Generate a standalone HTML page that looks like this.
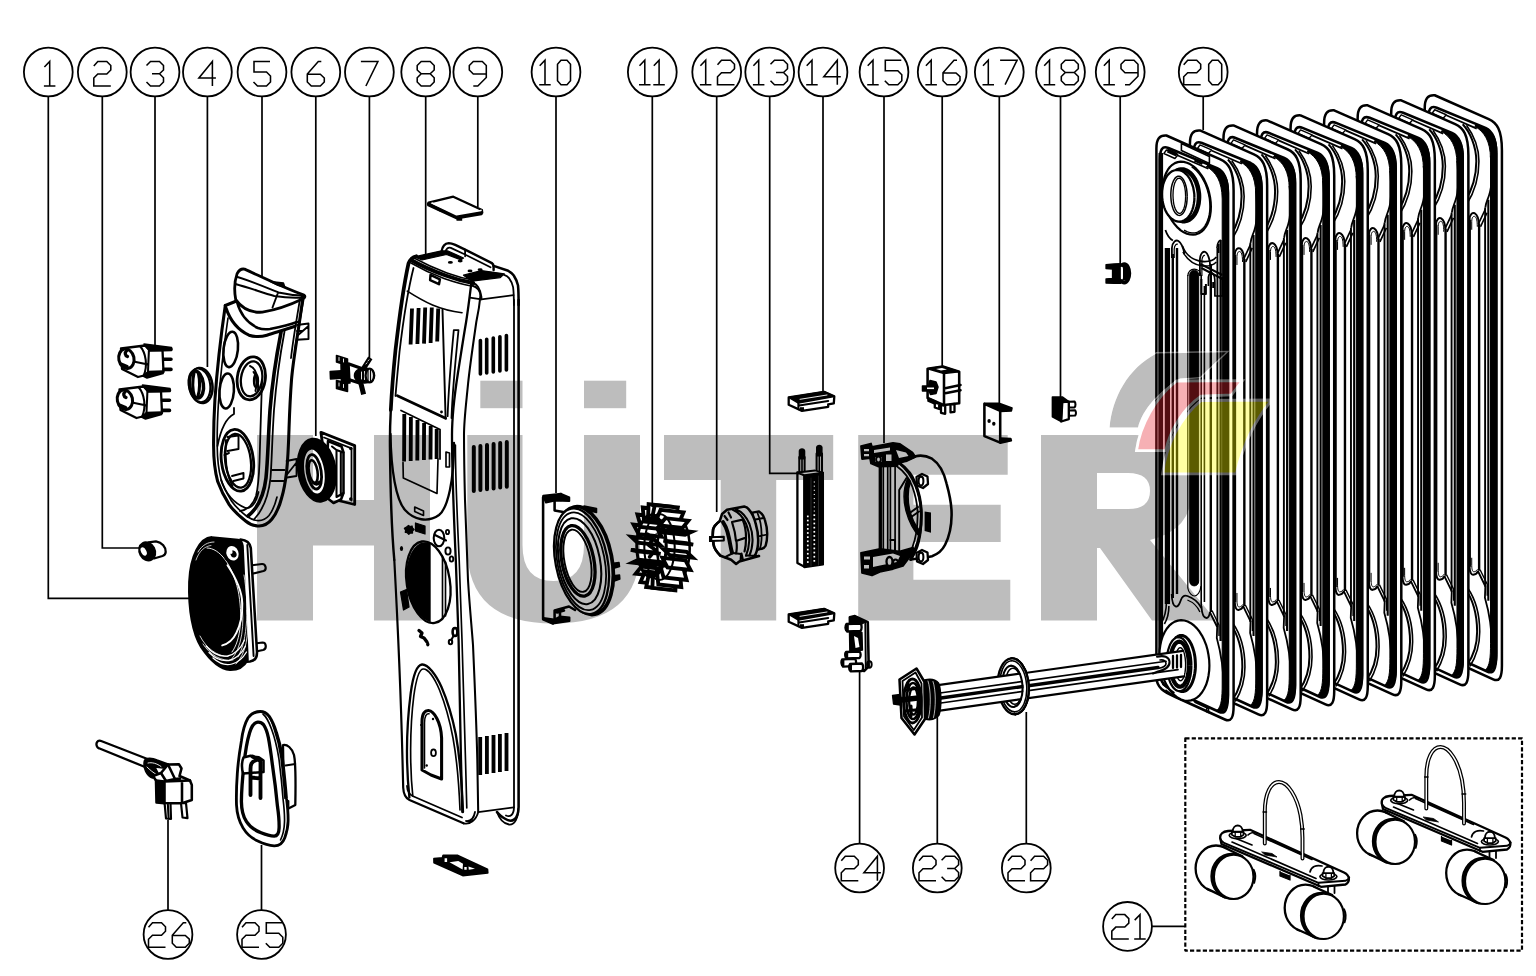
<!DOCTYPE html>
<html><head><meta charset="utf-8"><title>Diagram</title>
<style>html,body{margin:0;padding:0;background:#fff;}body{width:1536px;height:976px;overflow:hidden;font-family:"Liberation Sans",sans-serif;}svg{display:block}</style>
</head><body>
<svg width="1536" height="976" viewBox="0 0 1536 976">
<rect width="1536" height="976" fill="#fff"/>
<g id="drawing" fill="none" stroke="#000" stroke-width="1.5" stroke-linecap="round" stroke-linejoin="round">
<g id="p1">
<!-- pegs -->
<path fill="#fff" stroke-width="2.18" d="M250,565.5 L262,564 C266,563.8 267,570 263.5,571 L251,574 Z"/>
<path fill="#fff" stroke-width="2.18" d="M255,643.5 L262.5,642.5 C266.5,642.5 267,649 263,650 L256,651.5 Z"/>
<!-- flange -->
<path fill="#fff" stroke-width="2.56" d="M240.5,539.5 C246,540 250,543 250.8,548 L257,652 C257.2,658 254,661 250,661.5 L243,662 Z"/>
<path stroke-width="1.92" d="M247.3,545 L253.6,656"/>
<!-- body black -->
<path fill="#000" stroke-width="2.56" d="M211.8,537.4 C200,538 190.5,556 189.4,582 C188.5,610 193,634 201.3,647.1 C210,660 219,669 230,669.8 C238,670 244,666 247.5,660 L242.5,546 C242,542 240.500,540.500 238,540 Z"/>
<!-- inner light arcs -->
<path stroke="#fff" stroke-width="0.9" fill="none" d="M207,548 C220,548 232,565 238,590 C243,615 241,640 232,652"/>
<path stroke="#fff" stroke-width="0.8" fill="none" d="M244,575 C249,605 248,640 238,657 M241.5,600 C245,625 242,648 231,660 M247,610 C249.500,635 246,654 236,664"/>
<path stroke="#fff" stroke-width="0.8" fill="none" d="M203,644 C210,655 222,662 233,660 M200,636 C206,648 217,656.500 228,656.500 M198,552 C202,545 208,542 214,542"/>
<path stroke="#fff" stroke-width="0.7" fill="none" d="M196,560 C199,551 205,546 211,545.500"/>
<path stroke="#fff" stroke-width="1.92" fill="none" d="M227.5,565.3 C236,578 242,592 242.3,603.6 C242.600,616 240,626 236.2,633.2 C233,640 228,644 222.2,645.4"/>
<path stroke="#fff" stroke-width="1.28" fill="none" d="M206,646 C212,653 220,657 227.5,656 C235,654.500 241,648 244.5,640 M209,652.500 C215,658.500 222,661.500 229,660.500 C236,659 242,653 245.500,646 M213,658 C219,663.500 226,665.500 232,664 C238,662.500 243,658 246.500,652"/>
<!-- small ring -->
<ellipse cx="232.5" cy="553.3" rx="7.8" ry="9.2" fill="#fff" stroke="#000" stroke-width="3.58" transform="rotate(-20 232.5 553.3)"/>
<ellipse cx="233.5" cy="554" rx="3" ry="3.6" fill="#000" stroke="none" transform="rotate(-20 233.5 554)"/>
<ellipse cx="231" cy="552" rx="1.6" ry="2" fill="#fff" stroke="none"/>
</g>

<g id="p3">
<g transform="translate(0,0)">
<path fill="#fff" stroke-width="2.30" d="M121,348.5 L145,345.5 L149.5,350 L162.5,350 L163.5,372 L148,374.5 L138,377 L122,369 Z"/>
<path fill="#000" stroke-width="1.54" d="M144,344 L171.500,347.500 V350.500 L163,350.800 L149.500,351 Z"/>
<path stroke-width="3.58" stroke-linecap="round" d="M164,359.2 H171 M164,369.4 H171 M164,349.3 H171"/>
<path fill="#000" stroke-width="1.54" d="M143,376 L148,371.500 L163.500,371 L163,373.500 L147,378 Z"/>
<path stroke-width="2.05" d="M148.9,350.5 L147.9,374 M133.500,361.500 L148,364.500 M140,346 C146,353 148,366 143.500,376"/>
<ellipse cx="126.4" cy="358.7" rx="7.6" ry="9.8" fill="#fff" stroke-width="3.07" transform="rotate(-12 126.4 358.7)"/>
<path stroke-width="3.33" d="M126.500,351 C124.500,352.500 125,355.500 127.500,356.500 M121,364 L127,366.500"/>
</g>
<g transform="translate(-1.5,41)">
<path fill="#fff" stroke-width="2.30" d="M121,348.5 L145,345.5 L149.5,350 L162.5,350 L163.5,372 L148,374.5 L138,377 L122,369 Z"/>
<path fill="#000" stroke-width="1.54" d="M144,344 L171.500,347.500 V350.500 L163,350.800 L149.500,351 Z"/>
<path stroke-width="3.58" stroke-linecap="round" d="M164,359.2 H171 M164,369.4 H171 M164,349.3 H171"/>
<path fill="#000" stroke-width="1.54" d="M143,376 L148,371.500 L163.500,371 L163,373.500 L147,378 Z"/>
<path stroke-width="2.05" d="M148.9,350.5 L147.9,374 M133.500,361.500 L148,364.500 M140,346 C146,353 148,366 143.500,376"/>
<ellipse cx="126.4" cy="358.7" rx="7.6" ry="9.8" fill="#fff" stroke-width="3.07" transform="rotate(-12 126.4 358.7)"/>
<path stroke-width="3.33" d="M126.500,351 C124.500,352.500 125,355.500 127.500,356.500 M121,364 L127,366.500"/>
</g>
</g>
<g id="p4">
<ellipse cx="201.2" cy="385.5" rx="11.2" ry="17.6" fill="#fff" stroke-width="2.56" transform="rotate(-8 201.2 385.5)"/>
<ellipse cx="199.6" cy="385.3" rx="10.6" ry="17" fill="#fff" stroke-width="2.05" transform="rotate(-8 199.6 385.3)"/>
<ellipse cx="196.4" cy="384.6" rx="7" ry="13.6" fill="#fff" stroke-width="3.52" transform="rotate(-8 196.4 384.6)"/>
<path stroke-width="3.07" d="M194,373 C192.500,380 192.500,390 194.500,396.500 M198.500,374 C200,380 200,390 198,396"/>
</g>
<g id="p2">
<path fill="#fff" stroke-width="2.30" d="M148.5,542.3 L156,541.3 C162,542.500 166,547 165.7,552 C165.500,554.500 164,555.500 162.500,556 L154,558.5 Z"/>
<ellipse cx="147.2" cy="551.4" rx="7.6" ry="9.4" fill="#000" stroke-width="2.05" transform="rotate(-28 147.2 551.4)"/>
<ellipse cx="143.7" cy="551.5" rx="2.6" ry="4.4" fill="#fff" stroke="none" transform="rotate(-28 143.7 551.5)"/>
</g>
<g id="p5">
<!-- body fill -->
<path fill="#fff" stroke="none" d="M225.3,305.5 L236,300 L237,273 L245,269 L304,295 L302.5,300 C299,330 293,360 291.5,380 C290,400 289.500,415 289,429.2 C288.500,445 288,458 286.6,471.8 C285,485 283.500,492 281.6,498 C279,508 276,514 271.8,519.3 C268,524 262,526.500 257,525.9 C252,525.500 248,523 245.6,521 C238,515 233,510 229.2,504.6 C223,495 220,488 217.7,481.6 C214.500,470 213.600,455 213.6,445.6 C213.500,430 214,415 214.9,400 Z"/>
<!-- left edge & outline -->
<path stroke-width="3.07" d="M225.3,305.5 C221,335 217,370 214.9,400 C214,415 213.500,430 213.6,445.6 C213.600,455 214.500,470 217.7,481.6 C220,488 223,495 229.2,504.6 C233,510 238,515 245.6,521 C248,523 252,525.500 257,525.9 C262,526.500 268,524 271.8,519.3 C276,514 279,508 281.6,498 C283.500,492 285,485 286.6,471.8 C288,458 288.500,445 289,429.2 C289.500,415 290,400 291.5,380 C293,360 298,335 302.5,300"/>
<path stroke-width="1.66" d="M228,318 C224,345 220.500,375 218.500,402 C217.500,418 217,432 217.2,446 C217.300,456 218,468 221,479 C223,486 226,492 231.500,501 C235,506 240,511 247,516.500 C250,518.500 253,520 257,520.5 C262,521 266,519 269,515.5 C272.500,511 275,505 277,497"/>
<!-- hood -->
<path fill="#fff" stroke-width="2.82" d="M235.7,299.6 C234,290 234.500,281 237.1,273.6 C239,270 241.500,268.500 244.6,269.1 C262,277 284,288 304,295.1 C305.500,296 305,298 302.5,299 C290,305 278,309.500 262.4,312.2 C250,313 241,307 235.7,299.6 Z"/>
<path stroke-width="1.92" d="M235.5,284 C250,288 262,292.500 274.3,296 C284,297.500 294,298 302.5,297.5 M237.5,277 C252,281.500 265,287 278.5,292.5 C287,294.500 296,295.500 304,295.5 M277.5,294 L272.5,307.5"/>
<path fill="#000" stroke-width="1.28" d="M270,281.5 L283.500,283 L285,287.500 L278,285.500 Z"/>
<circle cx="302.5" cy="296.5" r="1.6" fill="#000" stroke="none"/>
<!-- collar arcs -->
<path stroke-width="3.07" d="M225.3,305.5 L236.5,301 M226,308 C230,320 238,330 249,335.2 C255,337 261,337 266.9,335.2 C277,332 287,329 295.1,326.3"/>
<path stroke-width="2.56" d="M237,302 C240,313 247,323 258,328 C262,329.500 266,329.500 270,329 C280,327 289,325 297,322"/>
<!-- right side lines -->
<path stroke-width="3.58" d="M281,332.3 C276,358 272,385 270,410 C268,440 268,458 266,478 C264,495 258,508 248,516"/>
<path stroke-width="1.79" d="M284.5,331.5 C279.500,358 276,385 274,410 C272,440 272,458 270.500,478 C268.500,496 263,510 254,519.500"/>
<path stroke-width="1.79" d="M262,380 C261,410 260,440 259.5,462 C259,476 258,488 256,496 C253,505 247,510 240,511"/>
<path stroke-width="1.79" d="M303.5,300 C300,320 297,335 295,350 M300,299 C296.500,320 293,340 291,358"/>
<!-- tabs on right -->
<path stroke-width="1.92" d="M297,325 L308.500,323.500 V339 L297,339.700 M297,336 L308.500,326 M297,331 H303"/>
<path stroke-width="1.79" d="M272,470 H284.500 M271.500,481 H283.500 M286.600,461 L296.500,459 V476 L287,477.500 M287,474.500 L296.500,462.500"/>
<!-- holes -->
<ellipse cx="230.7" cy="349.4" rx="7.2" ry="17.8" stroke-width="2.56" transform="rotate(6 230.7 349.4)"/>
<ellipse cx="226.7" cy="391" rx="7.2" ry="17.5" stroke-width="2.56" transform="rotate(4 226.7 391)"/>
<ellipse cx="251.3" cy="378.3" rx="14" ry="21.6" stroke-width="2.82" transform="rotate(8 251.3 378.3)"/>
<ellipse cx="251.6" cy="378.8" rx="10.6" ry="17.6" stroke-width="2.30" transform="rotate(8 251.6 378.8)"/>
<path stroke-width="1.92" d="M250,366 C256,368 259,378 258,390 M253.500,372 C256.500,376 257,384 255.500,391"/>
<ellipse cx="256" cy="381" rx="2" ry="6" stroke-width="2.30"/>
<!-- inner panel outline around large hole -->
<path stroke-width="1.79" d="M234,408 V414 C226,418 221,428 217.5,446 M221,480 C225,492 233,503 245.600,508 C252,509 256,503 258.5,492"/>
<!-- large oval hole -->
<ellipse cx="237.4" cy="460.3" rx="16" ry="31" stroke-width="2.82" transform="rotate(-7 237.4 460.3)"/>
<ellipse cx="238" cy="460.8" rx="12.8" ry="27" stroke-width="2.30" transform="rotate(-7 238 460.8)"/>
<path stroke-width="1.92" d="M227.5,437 L238.500,435.500 V449 L227.500,451 M224.500,455 L229,453 M232,476 L243.500,473 V478.500 L233.500,481 M226,440 C224.500,455 226,475 232.500,486"/>
</g>

<g id="p6">
<!-- back plate -->
<path fill="#fff" stroke-width="2.82" d="M320.9,432.3 L354.7,445.6 V504.5 L330,498.5 Z"/>
<path stroke-width="1.79" d="M324,437.500 L351.500,448.300 V500.500"/>
<circle cx="323" cy="433.5" r="1.7" fill="#000" stroke="none"/><circle cx="350.8" cy="448.5" r="1.8" fill="#000" stroke="none"/><circle cx="350.8" cy="499" r="1.8" fill="#000" stroke="none"/>
<!-- box -->
<path fill="#fff" stroke-width="2.56" d="M328,441 L341.500,446.500 L343.500,452.500 V493 L341,499.500 L333.500,503 L326,497 Z"/>
<path stroke-width="2.05" d="M336.5,450 V497 M340.800,452 V495.500 M332,446.500 L336.500,450 L343.500,452.500 M336.500,497 L343.500,493"/>
<!-- tire -->
<ellipse cx="316.8" cy="470.2" rx="18.8" ry="31.8" fill="#000" stroke-width="1.92" transform="rotate(-9 316.8 470.2)"/>
<ellipse cx="314.4" cy="471.6" rx="9.9" ry="22.2" fill="#fff" stroke="none" transform="rotate(-9 314.4 471.6)"/>
<ellipse cx="314.2" cy="471.8" rx="7" ry="17.4" stroke-width="2.82" transform="rotate(-9 314.2 471.8)"/>
<ellipse cx="313.2" cy="471.500" rx="4.3" ry="11.4" stroke-width="2.56" transform="rotate(-9 313.2 471.500)"/>
<path stroke-width="3.07" d="M313,482.500 C315.500,485 318,484.500 319.500,482"/>
</g>
<g id="p7" fill="#000" stroke-width="1.54">
<path d="M336.5,355.5 L347.5,359 V365.5 L336.500,362 Z"/>
<path d="M330.2,371.5 L348.800,370.200 V377.800 L330.500,379 Z"/>
<path d="M336.5,380.5 L347.500,383 V391.500 L336.500,388.500 Z"/>
<path d="M341,364.500 L349,364 L350,383 L341.500,383.500 Z"/>
<path stroke-width="3.33" d="M349,364 L364.500,369.500 M348.500,379.500 L359.500,383"/>
<ellipse cx="364.5" cy="375.5" rx="10" ry="7.6"/>
<path stroke="#fff" stroke-width="0.9" d="M361.500,372 V379 M364.500,371.500 V379.500 M368,371 V379.500 M339,357.500 v3 M343.500,359 v3 M339,383 v3 M343.500,384.500 v3"/>
<ellipse cx="369.8" cy="375.5" rx="4.2" ry="6.8" fill="#fff" stroke-width="2.30"/>
<path stroke-width="1.28" stroke="#000" d="M368,370.500 V380.500 M370.500,370 V381"/>
<path stroke-width="5.06" stroke-linecap="butt" d="M363.500,368.500 L370.300,357.800 M360.800,383 L363.600,394.300"/>
<path stroke="#fff" stroke-width="0.8" d="M366,364 l1,-1.2 M368,361 l1,-1.2"/>
</g>

<g id="p8">
<!-- silhouette fill -->
<path fill="#fff" stroke="none" d="M410.7,259.5 L445,244 L464,247 L511,270 C517,278 518.5,288 518.5,296 V808 C518,822 508,826 498,818 L478,812 L464,823.5 L409.5,800 C404,797 403,790 403.2,787 C402,740 399,640 394.3,560 C391,500 389,450 390.5,420 C392,380 398,310 410.7,259.5 Z"/>
<!-- left edge (double) -->
<path stroke-width="3.71" d="M416.3,256.2 C412.500,257 410,259.500 408.500,263.500 C403.500,286 399,320 395.5,350 C393.500,370 391.800,390 390.800,410"/>
<path stroke-width="2.43" d="M390.800,410 C390,425 389.800,438 390,450 C390.5,500 392.5,540 394.3,560"/>
<path stroke-width="2.18" d="M394.3,560 C397,610 400.5,680 402.5,760 L403.2,787.6 C403.5,794 405.5,798 409.5,800 L463.5,823.3"/>
<path stroke-width="1.79" d="M413.5,268 C408,290 403,322 399.5,352 C398,368 396.500,383 395.500,396 M407,786 C407.3,791 409,794 412.5,796 L462,817.5"/>
<!-- F1 double + F2 -->
<path stroke-width="2.30" d="M471.2,284.1 C469.5,298 468,310 466.1,322 C463,340 460.5,357 457.9,373.2 C454.5,395 452,418 452,435 C452,470 454,520 455.8,560 C456.8,590 457.8,615 458.6,640 C459.6,680 460.5,720 461,760 L462.3,812"/>
<path stroke-width="1.66" d="M455.4,445 C455.4,480 457.3,520 459.2,560 C460.2,590 461.2,615 462,640 C463,680 464.5,720 465.5,760 L466.8,808"/>
<path stroke-width="2.05" d="M472,285.5 C477,287 480.5,290 480.4,296 C479.5,306 478,314 476.3,322 C473,345 470,365 468.1,383.4 C466,405 464,420 464,435 C464,460 464.5,480 465,500 C466,530 467,555 468,580 C469.5,605 471.5,625 473,645 C475,690 476.5,725 477.3,760 L478.2,812"/>
<!-- right edge double -->
<path stroke-width="2.56" d="M518.6,300 V807 C518.3,820 512,823 505.5,819 C502,817 499,815 497,812"/>
<path stroke-width="1.79" d="M514,300 V807 C514,815 510,817.5 506,815.5"/>
<!-- top cap -->
<path stroke-width="3.97" d="M411.5,260.200 C420,265 432,270.500 445.6,275.5 C455,279 464,281.500 473.2,283"/>
<path stroke-width="1.54" d="M413.5,257.800 C424,263.500 436,269 447,273 C456,276.300 465,278.800 474,280.300 M411,263 C421,268.800 432,274 444,278.500 C454,282 463,284.500 471.500,286"/>
<path fill="#000" stroke-width="1.28" d="M414.5,256.8 L441.500,250.800 L448,251 L463.500,258 L461,259.800 L446.500,254.500 L422,260 Z"/>
<path fill="#000" stroke-width="1.28" d="M463.5,275.2 L481.4,270.6 L504.3,273.800 L500.3,277.600 L472,281.200 Z"/>
<path stroke-width="2.56" d="M493.6,265.9 L508.2,270.8 C511,272.200 512.800,273.800 513.9,275.7 C516,279 517.400,282 518,285.4 C518.500,290 518.600,296 518.6,305"/>
<path stroke-width="1.79" d="M504.1,274.9 C506.500,275.800 508,276.800 509,278.1 C511.200,281 512.500,284 513.1,287.1 C513.700,292 513.900,298 513.9,305"/>
<path stroke-width="1.79" d="M470,297.6 L481.4,299.3 L513.500,295.100"/>
<path stroke-width="1.92" d="M473.2,283 C475.500,284 477,285.300 478.1,287 C480,290 481,293.500 481.4,296.8 V299.300"/>
<path stroke-width="1.66" d="M407.3,291.1 C415,296 423,300.800 432.5,305 C442,309 452,311.500 462,312.7"/>
<!-- handle -->
<path stroke-width="2.43" d="M441.5,251.8 C442,248.500 443,246.500 443.9,245.6 C445.200,244 447,243.200 448.8,243.1 C451,243.100 453,243.800 455.3,244.8 L465.1,249.6 L491.9,263.1 C493,263.800 493.500,265 493.6,266.7 V270"/>
<path stroke-width="1.79" d="M445.3,252.300 C445.800,250.300 446.500,249 447.500,248.300 C448.500,247.600 449.500,247.500 450.800,247.900 L464.500,254.300 L490.500,267.300 M465.100,249.600 V256.300"/>
<g fill="#000" stroke="none"><ellipse cx="450.4" cy="262.4" rx="2.5" ry="1.4"/><ellipse cx="460.2" cy="261.100" rx="2.500" ry="1.400"/><ellipse cx="470" cy="270.900" rx="2.500" ry="1.400"/><ellipse cx="480.100" cy="269.700" rx="2.500" ry="1.400"/></g>
<path stroke-width="2.43" d="M430.5,274.9 L439.9,279.3 L439,284.2 L430.1,280.2 Z"/>
<!-- upper front vents -->
<path stroke-width="3.84" stroke-linecap="butt" d="M412,308.5 L410.6,344.5 M418.6,308 L417.4,344 M425.2,307.5 L424,343.6 M431.8,307.5 L430.6,343 M438.2,308.5 L437.2,341.5"/>
<!-- window -->
<path stroke-width="1.92" d="M442.5,309.7 L445.6,418.3"/>
<path stroke-width="2.82" d="M397.4,395.7 L445.6,418.3"/>
<path stroke-width="1.79" d="M453.8,330.2 H458.5 M453.8,330.2 C451,360 448.5,390 447.6,416.2 M458.5,330.2 C455.5,360 452.5,390 451.5,418"/>
<circle cx="441.5" cy="412" r="1.4" fill="#000" stroke="none"/>
<!-- lower front vents -->
<path stroke-width="1.79" d="M401,410.5 L440,429.5 V459"/>
<path stroke-width="3.84" stroke-linecap="butt" d="M404.3,414 L404.1,461.5 M410.9,417 L410.7,461 M417.5,420 L417.3,460.5 M424.1,423 L423.9,460 M430.7,426 L430.5,459.5 M436.7,429 L436.6,459"/>
<path stroke-width="1.66" d="M403,462.5 L403.3,478 L437,493.5 L438,459"/>
<!-- big half ellipse recess -->
<path stroke-width="2.30" d="M390.5,434 C391,470 396,500 405,510 C414,520 428,523 439,515 C448,508 454,480 454,443"/>
<path stroke-width="1.66" d="M446,452 V467 H449.5 V453 Z M414.7,507 L423.5,511 V515.5 L414.7,511.5 Z"/>
<!-- icons -->
<path fill="#000" stroke-width="1.28" d="M415.5,523 L425,526 V534 L415.5,531 Z M406.5,527 l2,-1.5 l1.5,1 l2,-0.5 l0.5,2 l1.5,1.5 l-1.5,1.5 l0,2 l-2.2,0 l-1.5,1.3 l-1.5,-1.6 l-2,-0.3 l0.3,-2.2 l-1.2,-1.8 Z"/>
<ellipse cx="439" cy="538" rx="5.3" ry="8.3" stroke-width="2.05"/><path stroke-width="2.05" d="M435,535 L446,540.5"/>
<ellipse cx="447.5" cy="532" rx="1.6" ry="2.2" stroke-width="1.79"/><ellipse cx="448" cy="551" rx="2.6" ry="3.6" stroke-width="1.92"/><ellipse cx="451.5" cy="559" rx="1.8" ry="2.6" stroke-width="1.92"/>
<ellipse cx="401.5" cy="548.5" rx="1.6" ry="2.6" fill="#000" stroke="none"/>
<!-- knob hole ellipse -->
<g transform="rotate(-9 428.3 582.2)">
<ellipse cx="428.3" cy="582.2" rx="21.6" ry="41.2" stroke-width="2.30"/>
</g>
<path fill="#000" stroke="none" d="M430.7,543.5 C418,538 408,552 406.3,572 C405,595 414,616 430.7,622.5 Z"/>
<path stroke-width="1.66" d="M442.5,557 V619 M445.5,562 V616"/>
<path fill="#000" stroke-width="1.28" d="M400.5,592 L406.5,589.5 L409,607 L403.5,610 Z"/>
<!-- lower icons -->
<path stroke-width="3.33" d="M419,630.5 L422,633 L420.5,636.5 L424,638 L427,642" /><ellipse cx="427.8" cy="644.2" rx="1.6" ry="2.2" fill="#000" stroke="none"/>
<ellipse cx="455" cy="632" rx="2.4" ry="4" stroke-width="2.56"/><ellipse cx="450.5" cy="642" rx="1.7" ry="2.2" stroke-width="2.05"/><path stroke-width="2.05" d="M453.5,636 L451.5,639.5"/>
<!-- arch recess -->
<path stroke-width="2.30" d="M409.4,797.4 C406.5,770 406,730 410.7,693.2 C413,676 417,665 422,664.5 C428,664 436,675 441.5,687 C448,702 452.5,718 455.8,734.2 C460,758 462,785 463,812"/>
<path stroke-width="1.66" d="M412.8,796 C410,770 409.5,730 413.8,696 C416,680 419,669.5 423,669 C428,668.5 434.5,678 439.5,690 C446,706 450,722 453,738 C457,760 459,785 460,810"/>
<!-- door -->
<path stroke-width="3.07" d="M422,770 V722 C422,713 425,710.3 428.5,710.5 C434,711 441,722 441.6,738 V779 L431,775 Z"/>
<path stroke-width="1.54" d="M424.5,768 V723 C424.5,716 426.5,713.5 429,713.8"/>
<ellipse cx="433.5" cy="752.7" rx="2.4" ry="3.4" stroke-width="1.79"/>
<circle cx="433" cy="719" r="1.2" fill="#000" stroke="none"/><circle cx="426.7" cy="765.5" r="1.2" fill="#000" stroke="none"/><circle cx="421" cy="725" r="1" fill="#000" stroke="none"/>
<!-- side vents -->
<path stroke-width="3.63" stroke-linecap="round" d="M480.4,340.5 V374 M486.7,339.3 V373 M493.3,338 V372 M499.9,336.8 V371 M506.4,335.6 V370"/>
<path stroke-width="3.97" stroke-linecap="round" d="M473.8,447 V491 M480.4,446 V490 M487,445 V489.2 M493.6,444 V488.4 M500.2,443 V487.6 M506.8,442 V486.8"/>
<path stroke-width="3.84" stroke-linecap="butt" d="M480.2,737 V775 M486.9,736 V774 M493.5,735 V773 M499.9,734 V772 M506.5,733 V771"/>
<!-- bottom of side -->
<path stroke-width="1.79" d="M478.2,812.2 L513.9,807.3 M463.5,823.3 C470,825 476,820 478.2,812.2 M466,821 C471,821.5 474,817.5 475,812"/>
<path stroke-width="1.79" d="M497,812 C499,818 503,823.5 509,824.5 C515,825 518,818 518.3,809"/>
</g>

<g id="p10">
<!-- bracket -->
<path stroke-width="2.56" d="M543.1,497.2 V619.3 L553,623.500"/>
<path fill="#000" stroke-width="1.92" d="M543.1,495.8 L561,493.800 L569.300,497.500 V501 L555,500.500 L546,502.500 Z"/>
<path stroke-width="2.56" d="M554.6,501 V510.5 L566,512.500 M561,494 V500"/>
<path fill="#000" stroke-width="1.92" d="M543.5,618 L553,623.500 L569.500,621 V617.500 L560,616.500 L554,619.500 Z"/>
<path stroke-width="2.56" d="M554.6,621 V610.5 L569,606.500 L575,610 M560,610 V617 M557,612.500 L564,610.500"/>
<path fill="#000" stroke-width="1.54" d="M584,506 L596.500,508.500 V512.500 L590,511 Z"/>
<!-- pegs -->
<path fill="#000" stroke-width="1.54" d="M611.5,563.5 L619,562.500 L619.500,566.500 L613,568.500 Z M611.5,576 L619.500,575 L619.800,579 L613,581.500 Z"/>
<!-- ring -->
<g transform="rotate(-11 582.5 561)">
<ellipse cx="584.5" cy="561" rx="27.4" ry="54.6" fill="#fff" stroke-width="3.74"/>
<ellipse cx="581.5" cy="561" rx="26" ry="53.6" fill="#fff" stroke-width="2.30"/>
<ellipse cx="581" cy="561" rx="23.6" ry="49.6" stroke-width="1.79"/>
<ellipse cx="579.6" cy="560.6" rx="20.4" ry="43.6" stroke-width="2.05"/>
<ellipse cx="578" cy="560" rx="16" ry="35.8" stroke-width="3.33"/>
<ellipse cx="577.6" cy="559.8" rx="13" ry="31.6" stroke-width="1.92"/>
</g>
</g>

<g id="p11">
<ellipse cx="673.5" cy="548.5" rx="16.2" ry="35.0" stroke-width="2.56"/>
<path d="M637.4,542.6 L631.2,536.8 L654.2,539.3 L660.4,545.1 Z" fill="#fff" stroke-width="3.84" stroke-linejoin="miter"/>
<path d="M637.6,551.4 L630.8,549.9 L653.8,552.4 L660.6,553.9 Z" fill="#fff" stroke-width="3.84" stroke-linejoin="miter"/>
<path d="M638.6,534.2 L633.5,524.6 L656.5,527.1 L661.6,536.7 Z" fill="#fff" stroke-width="3.84" stroke-linejoin="miter"/>
<path d="M639.0,559.6 L632.4,562.7 L655.4,565.2 L662.0,562.1 Z" fill="#fff" stroke-width="3.84" stroke-linejoin="miter"/>
<path d="M640.9,526.9 L637.4,514.5 L660.4,517.0 L663.9,529.4 Z" fill="#fff" stroke-width="3.84" stroke-linejoin="miter"/>
<path d="M641.5,566.5 L635.7,573.8 L658.7,576.3 L664.5,569.0 Z" fill="#fff" stroke-width="3.84" stroke-linejoin="miter"/>
<path d="M644.1,521.5 L642.7,507.5 L665.7,510.0 L667.1,524.0 Z" fill="#fff" stroke-width="3.84" stroke-linejoin="miter"/>
<path d="M645.0,571.4 L640.5,582.1 L663.5,584.6 L668.0,573.9 Z" fill="#fff" stroke-width="3.84" stroke-linejoin="miter"/>
<path d="M648.0,518.5 L648.6,504.2 L671.6,506.7 L671.0,521.0 Z" fill="#fff" stroke-width="3.84" stroke-linejoin="miter"/>
<path d="M648.9,573.8 L646.2,587.0 L669.2,589.5 L671.9,576.3 Z" fill="#fff" stroke-width="3.84" stroke-linejoin="miter"/>
<path d="M652.1,518.2 L654.8,505.0 L677.8,507.5 L675.1,520.7 Z" fill="#fff" stroke-width="3.84" stroke-linejoin="miter"/>
<path d="M653.0,573.5 L652.4,587.8 L675.4,590.3 L676.0,576.0 Z" fill="#fff" stroke-width="3.84" stroke-linejoin="miter"/>
<path d="M656.0,520.6 L660.5,509.9 L683.5,512.4 L679.0,523.1 Z" fill="#fff" stroke-width="3.84" stroke-linejoin="miter"/>
<path d="M656.9,570.5 L658.3,584.5 L681.3,587.0 L679.9,573.0 Z" fill="#fff" stroke-width="3.84" stroke-linejoin="miter"/>
<path d="M659.5,525.5 L665.3,518.2 L688.3,520.7 L682.5,528.0 Z" fill="#fff" stroke-width="3.84" stroke-linejoin="miter"/>
<path d="M660.1,565.1 L663.6,577.5 L686.6,580.0 L683.1,567.6 Z" fill="#fff" stroke-width="3.84" stroke-linejoin="miter"/>
<path d="M662.0,532.4 L668.6,529.3 L691.6,531.8 L685.0,534.9 Z" fill="#fff" stroke-width="3.84" stroke-linejoin="miter"/>
<path d="M662.4,557.8 L667.5,567.4 L690.5,569.9 L685.4,560.3 Z" fill="#fff" stroke-width="3.84" stroke-linejoin="miter"/>
<path d="M663.4,540.6 L670.2,542.1 L693.2,544.6 L686.4,543.1 Z" fill="#fff" stroke-width="3.84" stroke-linejoin="miter"/>
<path d="M663.6,549.4 L669.8,555.2 L692.8,557.7 L686.6,551.9 Z" fill="#fff" stroke-width="3.84" stroke-linejoin="miter"/>
<ellipse cx="651.5" cy="546.0" rx="14.7" ry="31.0" stroke-width="3.07"/>
<ellipse cx="659.5" cy="547.0" rx="15.2" ry="33.0" stroke-width="2.05"/>
<path d="M647.5,534.0 l6,5 l-5,6 l7,5 l-6,7" stroke-width="3.52"/>
</g>
<g id="p12">
<path fill="#fff" stroke-width="2.43" d="M752.5,512.6 L759,511.4 C762,513.500 764,516.500 764.8,519.6 C766.500,525 767.300,530 767.2,534.3 C767.200,539 766.500,543 765.6,545.8 C764.500,548 762,549 759.8,549.1 L753,551 Z"/>
<path stroke-width="1.79" d="M755.5,519.5 L763.5,518 M759.500,536.200 L767.200,534.500 M757.500,513 C760.500,520 762,530 761.500,540 C761.300,544 760.500,547 759.800,549"/>
<path fill="#fff" stroke-width="2.56" d="M722.1,513.9 L727,509.8 L744.3,506.5 C746.500,506.800 748,508 749.2,509.8 C752.500,513.500 754.500,518.500 755.7,523.7 C757.300,529 758.200,535 758.2,540.1 C758.200,545.500 757.300,550.500 755.7,554 C755,555.500 754,556.500 752.5,557.3 L759,556.1 L739.3,561.4 L736.1,563.9 L731.1,559.8 L724.6,557.3 L720.5,555.7 C716.500,552 714,548.500 713.500,544.200 C712.500,538 712.500,533.500 713.100,529.400 C714,526 716.500,523.500 719.700,521.200 Z"/>
<path stroke-width="2.05" d="M732.8,509.800 C739,512.500 743.500,518 746,523.700 C748.500,530 749.500,536 749.200,541 C749,547 747.500,552 746,555.700 M736,509.200 C742.500,512 747,518 749.500,524 C752,530.500 752.800,536 752.500,541.500 C752.200,547.500 751,552 749.500,555.200"/>
<path stroke-width="3.96" d="M723,522.100 C725,525 726.500,528.500 727.500,532 C729,537.500 730,543 730.500,546 C731,549 731.500,551 732,552.500"/>
<path stroke-width="2.18" d="M732,522 L742.600,519.600 C745,525 746,532 746,537.600 L736,541 C735.500,534 734,528 732,522 Z M736.500,541.500 C737,546 737,550 736,553.500 M746,538.500 C746,544 745.500,548 744.500,551.500 M728.500,512.500 L731,517.500 M724.500,516 L727.500,520"/>
<path stroke-width="2.05" d="M724.600,557.300 L733,553 L741,554 L740.500,561 M741.500,553.500 L743,560 M746,555.500 L759,556"/>
<path stroke-width="2.56" d="M719.700,521.200 C716.500,523.500 714,526 713.100,529.400 C712.500,533.500 712.500,538 713.500,544.200 C714,548.500 716.500,552 720.500,555.700"/>
<path fill="#fff" stroke-width="2.05" d="M710,537.300 L723.800,536.800 V540.600 L710,541 Z"/>
<path fill="#000" stroke="none" d="M709,536 h3.300 v6 h-3.300 Z"/>
</g>
<g id="p14"><g transform="translate(0,0)">
<path fill="#fff" stroke-width="2.30" d="M788.7,397.4 L824.1,391.8 L834.3,396.4 L833.8,403.3 L828.2,404.3 V406.8 L802,410.9 L788.7,404.8 Z"/>
<path fill="#000" stroke-width="1.54" d="M788.7,397.4 L824.1,391.8 L834.3,396.4 L798.4,403.1 Z"/>
<path stroke="#fff" stroke-width="0.9" d="M800,399.300 L827,395"/>
<path stroke-width="2.05" d="M798.4,403.1 V409.2 M799,405.500 L828.2,401 "/>
<path fill="#000" stroke="none" d="M800,407.200 h4 v3.400 h-4 Z"/>
</g><g transform="translate(0,217)">
<path fill="#fff" stroke-width="2.30" d="M788.7,397.4 L824.1,391.8 L834.3,396.4 L833.8,403.3 L828.2,404.3 V406.8 L802,410.9 L788.7,404.8 Z"/>
<path fill="#000" stroke-width="1.54" d="M788.7,397.4 L824.1,391.8 L834.3,396.4 L798.4,403.1 Z"/>
<path stroke="#fff" stroke-width="0.9" d="M800,399.300 L827,395"/>
<path stroke-width="2.05" d="M798.4,403.1 V409.2 M799,405.500 L828.2,401 "/>
<path fill="#000" stroke="none" d="M800,407.200 h4 v3.400 h-4 Z"/>
</g></g>
<g id="p13">
<path fill="#fff" stroke-width="2.05" d="M799.3,476 V457 H804.6 V477 Z M816.6,473 V453.500 H822 V472.500 Z"/>
<path fill="#000" stroke-width="1.79" d="M799.6,451 C800,448.500 804,448.500 804.4,451 V458.500 H799.6 Z M816.9,447.500 C817.300,445 821.300,445 821.700,447.500 V455.500 H816.900 Z"/>
<path stroke-width="1.66" d="M802,458 V475 M819.300,455 V472"/>
<path fill="#fff" stroke-width="2.30" d="M797.4,472.5 L804.4,475.3 V566.8 L797.4,563.1 Z"/>
<path fill="#000" stroke-width="2.05" d="M804.4,475 L823,472.700 V564.5 L804.4,567.2 Z"/>
<path fill="#fff" stroke-width="1.79" d="M797.4,472.5 L815,470.500 L823,472.700 L804.4,475.200 Z"/>
<g fill="#fff" stroke="none"><rect x="813.75" y="481.45" width="1.10" height="1.10"/><rect x="813.75" y="485.60" width="1.10" height="1.10"/><rect x="813.75" y="489.75" width="1.10" height="1.10"/><rect x="813.75" y="493.90" width="1.10" height="1.10"/><rect x="813.75" y="498.05" width="1.10" height="1.10"/><rect x="813.75" y="502.20" width="1.10" height="1.10"/><rect x="813.75" y="506.35" width="1.10" height="1.10"/><rect x="813.75" y="510.50" width="1.10" height="1.10"/><rect x="813.45" y="514.35" width="1.70" height="1.70"/><rect x="806.95" y="515.55" width="1.70" height="1.70"/><rect x="813.45" y="518.50" width="1.70" height="1.70"/><rect x="806.95" y="519.70" width="1.70" height="1.70"/><rect x="813.45" y="522.65" width="1.70" height="1.70"/><rect x="806.95" y="523.85" width="1.70" height="1.70"/><rect x="813.45" y="526.80" width="1.70" height="1.70"/><rect x="806.95" y="528.00" width="1.70" height="1.70"/><rect x="813.45" y="530.95" width="1.70" height="1.70"/><rect x="806.95" y="532.15" width="1.70" height="1.70"/><rect x="813.45" y="535.10" width="1.70" height="1.70"/><rect x="806.95" y="536.30" width="1.70" height="1.70"/><rect x="813.45" y="539.25" width="1.70" height="1.70"/><rect x="806.95" y="540.45" width="1.70" height="1.70"/><rect x="813.45" y="543.40" width="1.70" height="1.70"/><rect x="806.95" y="544.60" width="1.70" height="1.70"/><rect x="813.45" y="547.55" width="1.70" height="1.70"/><rect x="806.95" y="548.75" width="1.70" height="1.70"/><rect x="813.45" y="551.70" width="1.70" height="1.70"/><rect x="806.95" y="552.90" width="1.70" height="1.70"/><rect x="813.45" y="555.85" width="1.70" height="1.70"/><rect x="806.95" y="557.05" width="1.70" height="1.70"/><rect x="813.45" y="560.00" width="1.70" height="1.70"/><rect x="806.95" y="561.20" width="1.70" height="1.70"/></g>
<path stroke="#444" stroke-width="0.6" d="M811,478 V566 M818.500,476 V565"/>
</g>
<g id="p15">
<!-- half cylinder body -->
<path fill="#fff" stroke-width="2.56" d="M899.2,462.8 L915.6,456.2 C921,455 927,456 932,458.7 C940,464 944.500,474 946.7,484.1 C950,496 951.800,506 951.6,515.2 C951.500,526 949,537 945.1,544.8 C942,551 937,554.500 932,556.2 L927,557.300 L910.7,559.5 C917,551 921.500,535 921.3,515.2 C921,495 914,475 899.2,462.8 Z"/>
<path stroke-width="2.82" d="M899.2,462.8 C908,469 913.500,478 915.6,484.1 C919.500,494 921.500,505 921.3,515.2 C921.200,528 919,540 915.6,548 C914,552 912.500,556 910.7,559.5"/>
<path stroke-width="1.79" d="M896.5,466 C905,472 910,480 912.500,487 C916,497 917.800,507 917.600,516 C917.500,528 915.500,539 912.500,547 C911,551 909.500,554.500 907.500,558"/>
<!-- inner dark crescent -->
<path fill="#000" stroke-width="1.28" d="M907.6,478.5 C903.500,488 903,500 906,511 C909,522 914,531 919.500,536.500 L920.500,532 C915.500,526 911.500,518 909.500,509 C907.500,499 908,489 910.500,481.500 Z"/>
<path stroke-width="2.05" d="M909,513.500 L918,507 M910.500,517.500 L919,511.500"/>
<!-- small black rect -->
<path fill="#000" stroke="none" d="M924.6,511.5 L931,512.500 V532.800 L924.600,531 Z"/>
<!-- bolts -->
<g stroke-width="2.30" fill="#fff">
<path d="M916.5,477 L922,474 L927.500,476.500 L928,484 L923,488 L917,485.500 Z"/><ellipse cx="921" cy="481" rx="2.4" ry="4.400" stroke-width="2.05"/>
<path d="M916.5,553 L922,550 L927.500,552.500 L928,560 L923,564 L917,561.500 Z"/><ellipse cx="921" cy="557" rx="2.400" ry="4.400" stroke-width="2.05"/>
</g>
<!-- rods -->
<path stroke-width="3.33" d="M880.3,464 V552"/>
<path stroke-width="1.66" d="M883.3,466 V551 M887.7,466 V551 M890.4,466 V551 M895.1,466 V551"/>
<path stroke-width="1.92" d="M899.2,551 V490 L906.500,478 M890.400,540 H895 V551"/>
<!-- top bracket -->
<g fill="#000" stroke-width="1.79">
<path d="M861,446 L871,443.500 L872,447 L893,443 L900,444 L912.500,452.500 L915.500,457 L907,461 L899,462.500 L897,466 L878,466.500 L871,463.500 L870,458 L862,459 Z"/>
</g>
<g fill="#fff" stroke="none">
<path d="M864,449 h5 v2.200 h-5 Z M864,454 h5 v2.200 h-5 Z M874,450 L890,447.500 V450.500 L874,453 Z M875.500,457 h6 v5 h-6 Z M886,454.500 h5.500 v6.500 h-5.500 Z M896,450 L906,452.500 L908.500,456 L899,458 Z"/>
</g>
<ellipse cx="878.5" cy="459.500" rx="2.300" ry="2.800" fill="none" stroke="#000" stroke-width="1.79"/>
<!-- bottom bracket -->
<g fill="#000" stroke-width="1.79">
<path d="M861,553 L880,549 L899,551.500 L913,547.500 L914,552 L909,558 L903,566 L893,569 L881,571.500 L872,575.500 L862,573 Z"/>
</g>
<g fill="#fff" stroke="none">
<path d="M864,556.500 h6 v3 h-6 Z M864,565 h5 v3.500 h-5 Z M873,557 L893,553.500 L900,556 L897,562 L880,565.500 L873,567 Z"/>
</g>
<ellipse cx="889.5" cy="561.500" rx="3" ry="4.500" fill="#fff" stroke="#000" stroke-width="2.30"/>
<ellipse cx="895.5" cy="563" rx="2.400" ry="3.500" fill="none" stroke="#000" stroke-width="1.79"/>
</g>

<g id="radiator" stroke-linecap="butt">
<g transform="translate(1424.72,95.76)">
<path d="M0,12.5 C0,3 3,-1 10,-0.5 L64,23.3 C72,26.7 77.2,34 77.2,54.5 V570 C77.2,581 75,586.5 68.5,583.5 L19,561 C8,556 0,552 0,541 Z" fill="#fff" stroke-width="2.5"/>
<path d="M3.5,24 C3.5,13 6,9.5 12,12 L60.8,32.1 C67,35 71.5,41 71.5,57 V559 C71.5,574 68.5,578.5 62.5,575.8 L20,556.3 C9,551 3.5,547 3.5,537 Z" stroke-width="2.6"/>
<path d="M7.5,17.5 L18.5,22.5 L21.5,19 L10,14 Z" stroke-width="1.4"/>
<path d="M50,30.5 C59.5,36 65.6,45 65.8,63 V548 C65.8,562 65,570 61,574 L64,576 C69,575 72.3,570 72.3,559 V57 C72.3,42 67.5,36 61,32.5 L52,28.6 Z" fill="#000" stroke-width="1"/>
<path d="M21.5,19.5 L52,32.8" stroke-width="1.8"/>
<path d="M38,28.5 C45,36 51.6,50 51.6,65.5 C51.6,82 47,95 40,106" stroke-width="2"/>
<path d="M41.8,29.5 C48,38 54.2,51 54.2,65.5 C54.2,83 49.3,97 42,108.5" stroke-width="1.6"/>
<path d="M66,60 C67.8,78 67.5,90 64.5,99 C63,104 61,107 60.6,112" stroke-width="1.8"/>
<path d="M44.8,134 V124 C45,118 48,116.5 50,117.5 C52.5,119 54,123 54.3,129" stroke-width="2"/>
<path d="M47,134 V125.5 C47.2,121 49,120 50.3,120.8 C52,122 52.5,125 52.6,131" stroke-width="1"/>
<path d="M54,127.5 L60.6,113.5 M55.8,131 L62.3,117" stroke-width="1.7"/>
<path d="M40,492 C47,502 52.4,518 52.4,536 C52.4,550 48,561 42.5,569" stroke-width="2"/>
<path d="M42.8,492 C49.8,502 55,518 55,536 C55,551 50.3,562.5 45.3,570.5" stroke-width="1.6"/>
<path d="M44.8,462 V471 C45,476.5 46.5,479.3 48.5,479 C50.5,478.7 52.5,477.5 53.5,475" stroke-width="2"/>
<path d="M47,462 V470 C47.2,474.5 48,476.3 49.5,476 C51,475.7 52,475 52.8,473.5" stroke-width="1"/>
<path d="M53.3,475.5 L60.6,490.5 L60.2,502 C64,515 67.2,535 67.3,552" stroke-width="1.8"/>
<path d="M55.4,474 L62.5,488.5 V500" stroke-width="1.4"/>
<path d="M54.4,128 V475" stroke-width="2.4"/>
<path d="M60.4,112 V491" stroke-width="1.9"/>
<path d="M63.6,104 V505" stroke-width="2.1"/>
<path d="M44.9,124 V471" stroke-width="2.6"/>
</g>
<g transform="translate(1391.18,100.79)">
<path d="M0,12.5 C0,3 3,-1 10,-0.5 L64,23.3 C72,26.7 77.2,34 77.2,54.5 V570 C77.2,581 75,586.5 68.5,583.5 L19,561 C8,556 0,552 0,541 Z" fill="#fff" stroke-width="2.5"/>
<path d="M3.5,24 C3.5,13 6,9.5 12,12 L60.8,32.1 C67,35 71.5,41 71.5,57 V559 C71.5,574 68.5,578.5 62.5,575.8 L20,556.3 C9,551 3.5,547 3.5,537 Z" stroke-width="2.6"/>
<path d="M7.5,17.5 L18.5,22.5 L21.5,19 L10,14 Z" stroke-width="1.4"/>
<path d="M50,30.5 C59.5,36 65.6,45 65.8,63 V548 C65.8,562 65,570 61,574 L64,576 C69,575 72.3,570 72.3,559 V57 C72.3,42 67.5,36 61,32.5 L52,28.6 Z" fill="#000" stroke-width="1"/>
<path d="M21.5,19.5 L52,32.8" stroke-width="1.8"/>
<path d="M38,28.5 C45,36 51.6,50 51.6,65.5 C51.6,82 47,95 40,106" stroke-width="2"/>
<path d="M41.8,29.5 C48,38 54.2,51 54.2,65.5 C54.2,83 49.3,97 42,108.5" stroke-width="1.6"/>
<path d="M66,60 C67.8,78 67.5,90 64.5,99 C63,104 61,107 60.6,112" stroke-width="1.8"/>
<path d="M44.8,134 V124 C45,118 48,116.5 50,117.5 C52.5,119 54,123 54.3,129" stroke-width="2"/>
<path d="M47,134 V125.5 C47.2,121 49,120 50.3,120.8 C52,122 52.5,125 52.6,131" stroke-width="1"/>
<path d="M54,127.5 L60.6,113.5 M55.8,131 L62.3,117" stroke-width="1.7"/>
<path d="M40,492 C47,502 52.4,518 52.4,536 C52.4,550 48,561 42.5,569" stroke-width="2"/>
<path d="M42.8,492 C49.8,502 55,518 55,536 C55,551 50.3,562.5 45.3,570.5" stroke-width="1.6"/>
<path d="M44.8,462 V471 C45,476.5 46.5,479.3 48.5,479 C50.5,478.7 52.5,477.5 53.5,475" stroke-width="2"/>
<path d="M47,462 V470 C47.2,474.5 48,476.3 49.5,476 C51,475.7 52,475 52.8,473.5" stroke-width="1"/>
<path d="M53.3,475.5 L60.6,490.5 L60.2,502 C64,515 67.2,535 67.3,552" stroke-width="1.8"/>
<path d="M55.4,474 L62.5,488.5 V500" stroke-width="1.4"/>
<path d="M54.4,128 V475" stroke-width="2.4"/>
<path d="M60.4,112 V491" stroke-width="1.9"/>
<path d="M63.6,104 V505" stroke-width="2.1"/>
<path d="M44.9,124 V471" stroke-width="2.6"/>
</g>
<g transform="translate(1357.64,105.82)">
<path d="M0,12.5 C0,3 3,-1 10,-0.5 L64,23.3 C72,26.7 77.2,34 77.2,54.5 V570 C77.2,581 75,586.5 68.5,583.5 L19,561 C8,556 0,552 0,541 Z" fill="#fff" stroke-width="2.5"/>
<path d="M3.5,24 C3.5,13 6,9.5 12,12 L60.8,32.1 C67,35 71.5,41 71.5,57 V559 C71.5,574 68.5,578.5 62.5,575.8 L20,556.3 C9,551 3.5,547 3.5,537 Z" stroke-width="2.6"/>
<path d="M7.5,17.5 L18.5,22.5 L21.5,19 L10,14 Z" stroke-width="1.4"/>
<path d="M50,30.5 C59.5,36 65.6,45 65.8,63 V548 C65.8,562 65,570 61,574 L64,576 C69,575 72.3,570 72.3,559 V57 C72.3,42 67.5,36 61,32.5 L52,28.6 Z" fill="#000" stroke-width="1"/>
<path d="M21.5,19.5 L52,32.8" stroke-width="1.8"/>
<path d="M38,28.5 C45,36 51.6,50 51.6,65.5 C51.6,82 47,95 40,106" stroke-width="2"/>
<path d="M41.8,29.5 C48,38 54.2,51 54.2,65.5 C54.2,83 49.3,97 42,108.5" stroke-width="1.6"/>
<path d="M66,60 C67.8,78 67.5,90 64.5,99 C63,104 61,107 60.6,112" stroke-width="1.8"/>
<path d="M44.8,134 V124 C45,118 48,116.5 50,117.5 C52.5,119 54,123 54.3,129" stroke-width="2"/>
<path d="M47,134 V125.5 C47.2,121 49,120 50.3,120.8 C52,122 52.5,125 52.6,131" stroke-width="1"/>
<path d="M54,127.5 L60.6,113.5 M55.8,131 L62.3,117" stroke-width="1.7"/>
<path d="M40,492 C47,502 52.4,518 52.4,536 C52.4,550 48,561 42.5,569" stroke-width="2"/>
<path d="M42.8,492 C49.8,502 55,518 55,536 C55,551 50.3,562.5 45.3,570.5" stroke-width="1.6"/>
<path d="M44.8,462 V471 C45,476.5 46.5,479.3 48.5,479 C50.5,478.7 52.5,477.5 53.5,475" stroke-width="2"/>
<path d="M47,462 V470 C47.2,474.5 48,476.3 49.5,476 C51,475.7 52,475 52.8,473.5" stroke-width="1"/>
<path d="M53.3,475.5 L60.6,490.5 L60.2,502 C64,515 67.2,535 67.3,552" stroke-width="1.8"/>
<path d="M55.4,474 L62.5,488.5 V500" stroke-width="1.4"/>
<path d="M54.4,128 V475" stroke-width="2.4"/>
<path d="M60.4,112 V491" stroke-width="1.9"/>
<path d="M63.6,104 V505" stroke-width="2.1"/>
<path d="M44.9,124 V471" stroke-width="2.6"/>
</g>
<g transform="translate(1324.10,110.85)">
<path d="M0,12.5 C0,3 3,-1 10,-0.5 L64,23.3 C72,26.7 77.2,34 77.2,54.5 V570 C77.2,581 75,586.5 68.5,583.5 L19,561 C8,556 0,552 0,541 Z" fill="#fff" stroke-width="2.5"/>
<path d="M3.5,24 C3.5,13 6,9.5 12,12 L60.8,32.1 C67,35 71.5,41 71.5,57 V559 C71.5,574 68.5,578.5 62.5,575.8 L20,556.3 C9,551 3.5,547 3.5,537 Z" stroke-width="2.6"/>
<path d="M7.5,17.5 L18.5,22.5 L21.5,19 L10,14 Z" stroke-width="1.4"/>
<path d="M50,30.5 C59.5,36 65.6,45 65.8,63 V548 C65.8,562 65,570 61,574 L64,576 C69,575 72.3,570 72.3,559 V57 C72.3,42 67.5,36 61,32.5 L52,28.6 Z" fill="#000" stroke-width="1"/>
<path d="M21.5,19.5 L52,32.8" stroke-width="1.8"/>
<path d="M38,28.5 C45,36 51.6,50 51.6,65.5 C51.6,82 47,95 40,106" stroke-width="2"/>
<path d="M41.8,29.5 C48,38 54.2,51 54.2,65.5 C54.2,83 49.3,97 42,108.5" stroke-width="1.6"/>
<path d="M66,60 C67.8,78 67.5,90 64.5,99 C63,104 61,107 60.6,112" stroke-width="1.8"/>
<path d="M44.8,134 V124 C45,118 48,116.5 50,117.5 C52.5,119 54,123 54.3,129" stroke-width="2"/>
<path d="M47,134 V125.5 C47.2,121 49,120 50.3,120.8 C52,122 52.5,125 52.6,131" stroke-width="1"/>
<path d="M54,127.5 L60.6,113.5 M55.8,131 L62.3,117" stroke-width="1.7"/>
<path d="M40,492 C47,502 52.4,518 52.4,536 C52.4,550 48,561 42.5,569" stroke-width="2"/>
<path d="M42.8,492 C49.8,502 55,518 55,536 C55,551 50.3,562.5 45.3,570.5" stroke-width="1.6"/>
<path d="M44.8,462 V471 C45,476.5 46.5,479.3 48.5,479 C50.5,478.7 52.5,477.5 53.5,475" stroke-width="2"/>
<path d="M47,462 V470 C47.2,474.5 48,476.3 49.5,476 C51,475.7 52,475 52.8,473.5" stroke-width="1"/>
<path d="M53.3,475.5 L60.6,490.5 L60.2,502 C64,515 67.2,535 67.3,552" stroke-width="1.8"/>
<path d="M55.4,474 L62.5,488.5 V500" stroke-width="1.4"/>
<path d="M54.4,128 V475" stroke-width="2.4"/>
<path d="M60.4,112 V491" stroke-width="1.9"/>
<path d="M63.6,104 V505" stroke-width="2.1"/>
<path d="M44.9,124 V471" stroke-width="2.6"/>
</g>
<g transform="translate(1290.56,115.88)">
<path d="M0,12.5 C0,3 3,-1 10,-0.5 L64,23.3 C72,26.7 77.2,34 77.2,54.5 V570 C77.2,581 75,586.5 68.5,583.5 L19,561 C8,556 0,552 0,541 Z" fill="#fff" stroke-width="2.5"/>
<path d="M3.5,24 C3.5,13 6,9.5 12,12 L60.8,32.1 C67,35 71.5,41 71.5,57 V559 C71.5,574 68.5,578.5 62.5,575.8 L20,556.3 C9,551 3.5,547 3.5,537 Z" stroke-width="2.6"/>
<path d="M7.5,17.5 L18.5,22.5 L21.5,19 L10,14 Z" stroke-width="1.4"/>
<path d="M50,30.5 C59.5,36 65.6,45 65.8,63 V548 C65.8,562 65,570 61,574 L64,576 C69,575 72.3,570 72.3,559 V57 C72.3,42 67.5,36 61,32.5 L52,28.6 Z" fill="#000" stroke-width="1"/>
<path d="M21.5,19.5 L52,32.8" stroke-width="1.8"/>
<path d="M38,28.5 C45,36 51.6,50 51.6,65.5 C51.6,82 47,95 40,106" stroke-width="2"/>
<path d="M41.8,29.5 C48,38 54.2,51 54.2,65.5 C54.2,83 49.3,97 42,108.5" stroke-width="1.6"/>
<path d="M66,60 C67.8,78 67.5,90 64.5,99 C63,104 61,107 60.6,112" stroke-width="1.8"/>
<path d="M44.8,134 V124 C45,118 48,116.5 50,117.5 C52.5,119 54,123 54.3,129" stroke-width="2"/>
<path d="M47,134 V125.5 C47.2,121 49,120 50.3,120.8 C52,122 52.5,125 52.6,131" stroke-width="1"/>
<path d="M54,127.5 L60.6,113.5 M55.8,131 L62.3,117" stroke-width="1.7"/>
<path d="M40,492 C47,502 52.4,518 52.4,536 C52.4,550 48,561 42.5,569" stroke-width="2"/>
<path d="M42.8,492 C49.8,502 55,518 55,536 C55,551 50.3,562.5 45.3,570.5" stroke-width="1.6"/>
<path d="M44.8,462 V471 C45,476.5 46.5,479.3 48.5,479 C50.5,478.7 52.5,477.5 53.5,475" stroke-width="2"/>
<path d="M47,462 V470 C47.2,474.5 48,476.3 49.5,476 C51,475.7 52,475 52.8,473.5" stroke-width="1"/>
<path d="M53.3,475.5 L60.6,490.5 L60.2,502 C64,515 67.2,535 67.3,552" stroke-width="1.8"/>
<path d="M55.4,474 L62.5,488.5 V500" stroke-width="1.4"/>
<path d="M54.4,128 V475" stroke-width="2.4"/>
<path d="M60.4,112 V491" stroke-width="1.9"/>
<path d="M63.6,104 V505" stroke-width="2.1"/>
<path d="M44.9,124 V471" stroke-width="2.6"/>
</g>
<g transform="translate(1257.02,120.91)">
<path d="M0,12.5 C0,3 3,-1 10,-0.5 L64,23.3 C72,26.7 77.2,34 77.2,54.5 V570 C77.2,581 75,586.5 68.5,583.5 L19,561 C8,556 0,552 0,541 Z" fill="#fff" stroke-width="2.5"/>
<path d="M3.5,24 C3.5,13 6,9.5 12,12 L60.8,32.1 C67,35 71.5,41 71.5,57 V559 C71.5,574 68.5,578.5 62.5,575.8 L20,556.3 C9,551 3.5,547 3.5,537 Z" stroke-width="2.6"/>
<path d="M7.5,17.5 L18.5,22.5 L21.5,19 L10,14 Z" stroke-width="1.4"/>
<path d="M50,30.5 C59.5,36 65.6,45 65.8,63 V548 C65.8,562 65,570 61,574 L64,576 C69,575 72.3,570 72.3,559 V57 C72.3,42 67.5,36 61,32.5 L52,28.6 Z" fill="#000" stroke-width="1"/>
<path d="M21.5,19.5 L52,32.8" stroke-width="1.8"/>
<path d="M38,28.5 C45,36 51.6,50 51.6,65.5 C51.6,82 47,95 40,106" stroke-width="2"/>
<path d="M41.8,29.5 C48,38 54.2,51 54.2,65.5 C54.2,83 49.3,97 42,108.5" stroke-width="1.6"/>
<path d="M66,60 C67.8,78 67.5,90 64.5,99 C63,104 61,107 60.6,112" stroke-width="1.8"/>
<path d="M44.8,134 V124 C45,118 48,116.5 50,117.5 C52.5,119 54,123 54.3,129" stroke-width="2"/>
<path d="M47,134 V125.5 C47.2,121 49,120 50.3,120.8 C52,122 52.5,125 52.6,131" stroke-width="1"/>
<path d="M54,127.5 L60.6,113.5 M55.8,131 L62.3,117" stroke-width="1.7"/>
<path d="M40,492 C47,502 52.4,518 52.4,536 C52.4,550 48,561 42.5,569" stroke-width="2"/>
<path d="M42.8,492 C49.8,502 55,518 55,536 C55,551 50.3,562.5 45.3,570.5" stroke-width="1.6"/>
<path d="M44.8,462 V471 C45,476.5 46.5,479.3 48.5,479 C50.5,478.7 52.5,477.5 53.5,475" stroke-width="2"/>
<path d="M47,462 V470 C47.2,474.5 48,476.3 49.5,476 C51,475.7 52,475 52.8,473.5" stroke-width="1"/>
<path d="M53.3,475.5 L60.6,490.5 L60.2,502 C64,515 67.2,535 67.3,552" stroke-width="1.8"/>
<path d="M55.4,474 L62.5,488.5 V500" stroke-width="1.4"/>
<path d="M54.4,128 V475" stroke-width="2.4"/>
<path d="M60.4,112 V491" stroke-width="1.9"/>
<path d="M63.6,104 V505" stroke-width="2.1"/>
<path d="M44.9,124 V471" stroke-width="2.6"/>
</g>
<g transform="translate(1223.48,125.94)">
<path d="M0,12.5 C0,3 3,-1 10,-0.5 L64,23.3 C72,26.7 77.2,34 77.2,54.5 V570 C77.2,581 75,586.5 68.5,583.5 L19,561 C8,556 0,552 0,541 Z" fill="#fff" stroke-width="2.5"/>
<path d="M3.5,24 C3.5,13 6,9.5 12,12 L60.8,32.1 C67,35 71.5,41 71.5,57 V559 C71.5,574 68.5,578.5 62.5,575.8 L20,556.3 C9,551 3.5,547 3.5,537 Z" stroke-width="2.6"/>
<path d="M7.5,17.5 L18.5,22.5 L21.5,19 L10,14 Z" stroke-width="1.4"/>
<path d="M50,30.5 C59.5,36 65.6,45 65.8,63 V548 C65.8,562 65,570 61,574 L64,576 C69,575 72.3,570 72.3,559 V57 C72.3,42 67.5,36 61,32.5 L52,28.6 Z" fill="#000" stroke-width="1"/>
<path d="M21.5,19.5 L52,32.8" stroke-width="1.8"/>
<path d="M38,28.5 C45,36 51.6,50 51.6,65.5 C51.6,82 47,95 40,106" stroke-width="2"/>
<path d="M41.8,29.5 C48,38 54.2,51 54.2,65.5 C54.2,83 49.3,97 42,108.5" stroke-width="1.6"/>
<path d="M66,60 C67.8,78 67.5,90 64.5,99 C63,104 61,107 60.6,112" stroke-width="1.8"/>
<path d="M44.8,134 V124 C45,118 48,116.5 50,117.5 C52.5,119 54,123 54.3,129" stroke-width="2"/>
<path d="M47,134 V125.5 C47.2,121 49,120 50.3,120.8 C52,122 52.5,125 52.6,131" stroke-width="1"/>
<path d="M54,127.5 L60.6,113.5 M55.8,131 L62.3,117" stroke-width="1.7"/>
<path d="M40,492 C47,502 52.4,518 52.4,536 C52.4,550 48,561 42.5,569" stroke-width="2"/>
<path d="M42.8,492 C49.8,502 55,518 55,536 C55,551 50.3,562.5 45.3,570.5" stroke-width="1.6"/>
<path d="M44.8,462 V471 C45,476.5 46.5,479.3 48.5,479 C50.5,478.7 52.5,477.5 53.5,475" stroke-width="2"/>
<path d="M47,462 V470 C47.2,474.5 48,476.3 49.5,476 C51,475.7 52,475 52.8,473.5" stroke-width="1"/>
<path d="M53.3,475.5 L60.6,490.5 L60.2,502 C64,515 67.2,535 67.3,552" stroke-width="1.8"/>
<path d="M55.4,474 L62.5,488.5 V500" stroke-width="1.4"/>
<path d="M54.4,128 V475" stroke-width="2.4"/>
<path d="M60.4,112 V491" stroke-width="1.9"/>
<path d="M63.6,104 V505" stroke-width="2.1"/>
<path d="M44.9,124 V471" stroke-width="2.6"/>
</g>
<g transform="translate(1189.94,130.97)">
<path d="M0,12.5 C0,3 3,-1 10,-0.5 L64,23.3 C72,26.7 77.2,34 77.2,54.5 V570 C77.2,581 75,586.5 68.5,583.5 L19,561 C8,556 0,552 0,541 Z" fill="#fff" stroke-width="2.5"/>
<path d="M3.5,24 C3.5,13 6,9.5 12,12 L60.8,32.1 C67,35 71.5,41 71.5,57 V559 C71.5,574 68.5,578.5 62.5,575.8 L20,556.3 C9,551 3.5,547 3.5,537 Z" stroke-width="2.6"/>
<path d="M7.5,17.5 L18.5,22.5 L21.5,19 L10,14 Z" stroke-width="1.4"/>
<path d="M50,30.5 C59.5,36 65.6,45 65.8,63 V548 C65.8,562 65,570 61,574 L64,576 C69,575 72.3,570 72.3,559 V57 C72.3,42 67.5,36 61,32.5 L52,28.6 Z" fill="#000" stroke-width="1"/>
<path d="M21.5,19.5 L52,32.8" stroke-width="1.8"/>
<path d="M38,28.5 C45,36 51.6,50 51.6,65.5 C51.6,82 47,95 40,106" stroke-width="2"/>
<path d="M41.8,29.5 C48,38 54.2,51 54.2,65.5 C54.2,83 49.3,97 42,108.5" stroke-width="1.6"/>
<path d="M66,60 C67.8,78 67.5,90 64.5,99 C63,104 61,107 60.6,112" stroke-width="1.8"/>
<path d="M44.8,134 V124 C45,118 48,116.5 50,117.5 C52.5,119 54,123 54.3,129" stroke-width="2"/>
<path d="M47,134 V125.5 C47.2,121 49,120 50.3,120.8 C52,122 52.5,125 52.6,131" stroke-width="1"/>
<path d="M54,127.5 L60.6,113.5 M55.8,131 L62.3,117" stroke-width="1.7"/>
<path d="M40,492 C47,502 52.4,518 52.4,536 C52.4,550 48,561 42.5,569" stroke-width="2"/>
<path d="M42.8,492 C49.8,502 55,518 55,536 C55,551 50.3,562.5 45.3,570.5" stroke-width="1.6"/>
<path d="M44.8,462 V471 C45,476.5 46.5,479.3 48.5,479 C50.5,478.7 52.5,477.5 53.5,475" stroke-width="2"/>
<path d="M47,462 V470 C47.2,474.5 48,476.3 49.5,476 C51,475.7 52,475 52.8,473.5" stroke-width="1"/>
<path d="M53.3,475.5 L60.6,490.5 L60.2,502 C64,515 67.2,535 67.3,552" stroke-width="1.8"/>
<path d="M55.4,474 L62.5,488.5 V500" stroke-width="1.4"/>
<path d="M54.4,128 V475" stroke-width="2.4"/>
<path d="M60.4,112 V491" stroke-width="1.9"/>
<path d="M63.6,104 V505" stroke-width="2.1"/>
<path d="M44.9,124 V471" stroke-width="2.6"/>
</g>
<g transform="translate(1156.40,136.00)">
<path d="M0,12.5 C0,3 3,-1 10,-0.5 L64,23.3 C72,26.7 77.2,34 77.2,54.5 V570 C77.2,581 75,586.5 68.5,583.5 L19,561 C8,556 0,552 0,541 Z" fill="#fff" stroke-width="2.5"/>
<path d="M3.5,24 C3.5,13 6,9.5 12,12 L60.8,32.1 C67,35 71.5,41 71.5,57 V559 C71.5,574 68.5,578.5 62.5,575.8 L20,556.3 C9,551 3.5,547 3.5,537 Z" stroke-width="2.6"/>
<path d="M7.5,17.5 L18.5,22.5 L21.5,19 L10,14 Z" stroke-width="1.4"/>
<path d="M50,30.5 C59.5,36 65.6,45 65.8,63 V548 C65.8,562 65,570 61,574 L64,576 C69,575 72.3,570 72.3,559 V57 C72.3,42 67.5,36 61,32.5 L52,28.6 Z" fill="#000" stroke-width="1"/>
<path d="M21.5,19.5 L52,32.8" stroke-width="1.8"/>
<path d="M25,7.5 L53,20.5 V27.5 L25,14.5 Z" fill="#fff" stroke-width="1.6"/>
<path d="M11,13.5 L21,18 M11,15.5 L20,19.5" stroke-width="2"/>
<path d="M38,24.5 L46,28 " stroke-width="2.4"/>
<path d="M54.5,70.8 L54.3,75.4 L53.7,79.7 L52.7,83.8 L51.3,87.4 L49.5,90.7 L47.5,93.4 L45.1,95.6 L42.5,97.3 L39.7,98.3 L36.7,98.7 L33.6,98.5 L30.5,97.7 L27.4,96.3 L24.3,94.3 L21.3,91.7 L18.5,88.6 L15.9,85.1 L13.5,81.2 L11.5,77.0 L9.7,72.5 L8.3,67.8 L7.3,63.0 L6.7,58.3 L6.5,53.6 L6.7,49.0 L7.3,44.7 L8.3,40.6 L9.7,37.0 L11.5,33.7 L13.5,31.0 L15.9,28.8 L18.5,27.1 L21.3,26.1 L24.3,25.7 L27.4,25.9 L30.5,26.7 L33.6,28.1 L36.7,30.1 L39.7,32.7 L42.5,35.8 L45.1,39.3 L47.5,43.2 L49.5,47.4 L51.3,51.9 L52.7,56.6 L53.7,61.4 L54.3,66.1 L54.5,70.8" stroke-width="2.2"/>
<path d="M35.3,30.9 L36.7,31.8 L38.1,32.9 L39.5,34.1 L40.8,35.5 L42.1,36.9 L43.3,38.5 L44.5,40.2 L45.6,41.9 L46.7,43.8 L47.7,45.7 L48.7,47.7 L49.5,49.8 L50.3,51.9 L51.0,54.1 L51.6,56.3 L52.2,58.5 L52.6,60.7 L53.0,63.0 L53.2,65.2 L53.4,67.5 L53.5,69.7 L53.5,71.9 L53.4,74.0 L53.2,76.1 L52.9,78.2 L52.5,80.1 L52.0,82.0 L51.4,83.8 L50.8,85.6 L50.1,87.2 L49.2,88.7 L48.4,90.1 L47.4,91.4 L46.4,92.5 L45.3,93.6 L44.1,94.5 L42.9,95.2 L41.7,95.9 L40.4,96.4 L39.0,96.7 L37.7,96.9 L36.3,96.9 L34.8,96.8 L33.4,96.6 L32.0,96.2 L30.5,95.6 L29.1,94.9 L27.7,94.1" stroke-width="1.4"/>
<path d="M19.4,35.2 L20.6,34.6 L21.8,34.1 L23.0,33.7 L24.3,33.5 L25.6,33.5 L26.8,33.6 L28.1,33.8 L29.4,34.3 L30.6,34.8 L31.8,35.6 L33.0,36.5 L34.1,37.5 L35.2,38.6 L36.3,39.9 L37.2,41.3 L38.2,42.8 L39.0,44.4 L39.8,46.1 L40.4,47.9 L41.0,49.7 L41.5,51.6 L41.9,53.6 L42.2,55.5 L42.5,57.5 L42.6,59.6 L42.6,61.6 L42.5,63.6 L42.3,65.6 L42.1,67.5 L41.7,69.4 L41.2,71.2 L40.6,73.0 L40.0,74.7 L39.3,76.2 L38.5,77.7 L37.6,79.1 L36.6,80.3 L35.6,81.4 L34.5,82.4 L33.4,83.2 L32.2,83.9 L31.0,84.5 L29.8,84.8 L28.5,85.1 L27.3,85.2 L26.0,85.1 L24.7,84.8 L23.5,84.4" stroke-width="4.6"/>
<path d="M38.0,61.4 L37.9,64.8 L37.4,68.0 L36.8,71.2 L35.8,74.1 L34.7,76.8 L33.3,79.2 L31.7,81.3 L29.9,83.0 L28.0,84.3 L26.0,85.1 L23.9,85.6 L21.8,85.6 L19.7,85.2 L17.6,84.3 L15.6,83.0 L13.7,81.3 L11.9,79.3 L10.3,76.9 L8.9,74.2 L7.8,71.3 L6.8,68.2 L6.2,64.9 L5.7,61.6 L5.6,58.2 L5.7,54.8 L6.2,51.6 L6.8,48.4 L7.8,45.5 L8.9,42.8 L10.3,40.4 L11.9,38.3 L13.7,36.6 L15.6,35.3 L17.6,34.5 L19.7,34.0 L21.8,34.0 L23.9,34.4 L26.0,35.3 L28.0,36.6 L29.9,38.3 L31.7,40.3 L33.3,42.7 L34.7,45.4 L35.8,48.3 L36.8,51.4 L37.4,54.7 L37.9,58.0 L38.0,61.4" fill="#fff" stroke-width="2.3"/>
<path d="M30.8,60.6 L30.7,63.2 L30.5,65.7 L30.2,68.1 L29.7,70.3 L29.1,72.4 L28.4,74.2 L27.6,75.8 L26.7,77.2 L25.7,78.2 L24.7,78.9 L23.7,79.3 L22.6,79.4 L21.5,79.1 L20.5,78.5 L19.5,77.6 L18.5,76.4 L17.6,74.9 L16.8,73.1 L16.1,71.1 L15.5,68.9 L15.0,66.5 L14.7,64.1 L14.5,61.5 L14.4,59.0 L14.5,56.4 L14.7,53.9 L15.0,51.5 L15.5,49.3 L16.1,47.2 L16.8,45.4 L17.6,43.8 L18.5,42.4 L19.5,41.4 L20.5,40.7 L21.5,40.3 L22.6,40.2 L23.7,40.5 L24.7,41.1 L25.7,42.0 L26.7,43.2 L27.6,44.7 L28.4,46.5 L29.1,48.5 L29.7,50.7 L30.2,53.1 L30.5,55.5 L30.7,58.1 L30.8,60.6" stroke-width="1.5"/>
<path d="M29.2,60.4 L29.1,62.7 L29.0,65.0 L28.7,67.1 L28.4,69.1 L27.9,71.0 L27.4,72.7 L26.7,74.1 L26.1,75.4 L25.3,76.3 L24.5,77.0 L23.7,77.3 L22.9,77.4 L22.1,77.2 L21.3,76.6 L20.5,75.8 L19.8,74.7 L19.1,73.4 L18.4,71.8 L17.9,70.0 L17.4,68.1 L17.1,66.0 L16.8,63.7 L16.7,61.5 L16.6,59.2 L16.7,56.9 L16.8,54.6 L17.1,52.5 L17.4,50.5 L17.9,48.6 L18.4,46.9 L19.1,45.5 L19.7,44.2 L20.5,43.3 L21.3,42.6 L22.1,42.3 L22.9,42.2 L23.7,42.4 L24.5,43.0 L25.3,43.8 L26.1,44.9 L26.7,46.2 L27.4,47.8 L27.9,49.6 L28.4,51.5 L28.7,53.6 L29.0,55.9 L29.1,58.1 L29.2,60.4" stroke-width="1.3"/>
<path d="M9,94 C11,100 13.5,103 16.5,104.5 M26,110 C29,118 36,124.5 46,125.5 C52,126 57,124.5 60,121" stroke-width="1.8"/>
<path d="M26.5,116 C31,124 38,129 46,130 C52,130.5 57,129 60,126" stroke-width="1.5"/>
<path d="M15.5,122 V112 C16,106 19.5,103.5 22,105 C25,107 27,112 28,118" stroke-width="1.8"/>
<path d="M17.8,122 V113 C18.2,109 20,107.5 21.5,108.3" stroke-width="1.2"/>
<path d="M43.5,140 V123 C44,117 47,115 49,116 C52,118 53.5,124 54,132" stroke-width="1.8"/>
<path d="M45.5,140 V124 C46,120 47.5,119 48.5,119.5" stroke-width="1.2"/>
<path d="M44,128 L66,139 M45,132 L66,143" stroke-width="2"/>
<path d="M52,150 V141 C52.5,137 55,136 56.5,137.5 C58,139 58.5,142 58.5,147 V160 H66 V141" stroke-width="1.7"/>
<path d="M45,143 V158 H49.5 V148 M56.8,146 V152" stroke-width="2"/>
<path d="M60.5,112 C61,106 63,104 64.5,104.5 M62.3,117 V108" stroke-width="1.6"/>
<path d="M33.3,139 C33.3,132.5 42.3,132.5 42.3,139 V445 C42.3,451.5 33.3,451.5 33.3,445 Z" fill="#000" stroke-width="1"/>
<path d="M31.4,140 C31.4,131 44,130.5 44.4,140" stroke-width="1.2"/>
<path d="M4.4,17 V538" stroke-width="4.6"/>
<path d="M11,112 V468" stroke-width="5.3"/>
<path d="M16.4,118 V462" stroke-width="2.4"/>
<path d="M20.6,112 V458" stroke-width="2.4"/>
<path d="M31.4,139 V452" stroke-width="1.2"/>
<path d="M44.8,139 V470" stroke-width="1.6"/>
<path d="M48,150 V466" stroke-width="1.6"/>
<path d="M54.4,128 V476" stroke-width="2.4"/>
<path d="M61,112 V491" stroke-width="1.9"/>
<path d="M64.2,104 V505" stroke-width="2.3"/>
<path d="M31.4,452 C32,457 36,460 38,460 C41,460 44,456 44.6,450" stroke-width="1.2"/>
<path d="M15.3,458 C15.5,466 17,470 19.5,470.5 C22,471 23,468 24.5,464 C26,460 28,459 31,460 C37,462 42,466 45,472" stroke-width="1.8"/>
<path d="M10,466 C10,476 8,482 4.5,488 M12.5,470 C12.5,478 11,483 8,488" stroke-width="1.6"/>
<path d="M45,470 C45.5,478 47.5,482 50,482 C52,482 53,480 53.6,476" stroke-width="1.8"/>
<path d="M53.4,476 L60.8,491 L60.4,502 C64,515 67.2,535 67.3,552" stroke-width="1.8"/>
<path d="M55.6,474.5 L62.6,489 V500" stroke-width="1.4"/>
<path d="M31,464 C36,466 41,470 43.5,476" stroke-width="1.3"/>
<path d="M53.0,529.5 L52.8,534.7 L52.1,539.7 L51.1,544.4 L49.7,548.8 L47.8,552.8 L45.7,556.3 L43.2,559.3 L40.5,561.6 L37.6,563.4 L34.5,564.4 L31.3,564.8 L28.0,564.5 L24.7,563.5 L21.5,561.8 L18.4,559.5 L15.5,556.6 L12.8,553.2 L10.3,549.2 L8.2,544.9 L6.3,540.2 L4.9,535.2 L3.9,530.0 L3.2,524.8 L3.0,519.5 L3.2,514.3 L3.9,509.3 L4.9,504.6 L6.3,500.2 L8.2,496.2 L10.3,492.7 L12.8,489.7 L15.5,487.4 L18.4,485.6 L21.5,484.6 L24.7,484.2 L28.0,484.5 L31.3,485.5 L34.5,487.2 L37.6,489.5 L40.5,492.4 L43.2,495.8 L45.7,499.8 L47.8,504.1 L49.7,508.8 L51.1,513.8 L52.1,519.0 L52.8,524.2 L53.0,529.5" fill="#fff" stroke-width="2.2"/>
<path d="M18.8,502.6 L19.7,501.6 L20.7,500.9 L21.7,500.2 L22.8,499.8 L23.8,499.5 L24.9,499.5 L26.0,499.6 L27.1,499.8 L28.1,500.3 L29.2,500.9 L30.2,501.7 L31.2,502.7 L32.2,503.8 L33.1,505.1 L33.9,506.5 L34.8,508.1 L35.5,509.7 L36.2,511.5 L36.8,513.4 L37.4,515.4 L37.9,517.5 L38.3,519.6 L38.6,521.8 L38.8,524.0 L38.9,526.2 L39.0,528.4 L39.0,530.7 L38.9,532.9 L38.7,535.1 L38.4,537.2 L38.0,539.3 L37.6,541.3 L37.0,543.2 L36.4,545.0 L35.8,546.7 L35.0,548.3 L34.3,549.7 L33.4,551.0 L32.5,552.1 L31.6,553.1 L30.6,554.0 L29.6,554.6 L28.5,555.1 L27.5,555.4 L26.4,555.5 L25.3,555.5 L24.2,555.2 L23.2,554.8" stroke-width="3"/>
<path d="M35.0,529.4 L34.9,533.0 L34.6,536.4 L34.1,539.7 L33.3,542.8 L32.4,545.6 L31.4,548.2 L30.1,550.4 L28.8,552.2 L27.3,553.6 L25.8,554.6 L24.2,555.1 L22.6,555.2 L21.0,554.8 L19.4,554.0 L17.9,552.7 L16.4,551.0 L15.1,548.9 L13.8,546.4 L12.8,543.7 L11.9,540.6 L11.1,537.4 L10.6,534.0 L10.3,530.5 L10.2,527.0 L10.3,523.4 L10.6,520.0 L11.1,516.7 L11.9,513.6 L12.8,510.8 L13.8,508.2 L15.1,506.0 L16.4,504.2 L17.9,502.8 L19.4,501.8 L21.0,501.3 L22.6,501.2 L24.2,501.6 L25.8,502.4 L27.3,503.7 L28.8,505.4 L30.1,507.5 L31.4,510.0 L32.4,512.7 L33.3,515.8 L34.1,519.0 L34.6,522.4 L34.9,525.9 L35.0,529.4" fill="#fff" stroke-width="2.2"/>
<path d="M32.5,529.1 L32.4,532.1 L32.2,534.9 L31.8,537.7 L31.3,540.3 L30.6,542.6 L29.8,544.8 L28.9,546.6 L27.9,548.2 L26.8,549.3 L25.6,550.2 L24.4,550.6 L23.2,550.7 L22.0,550.4 L20.8,549.7 L19.6,548.6 L18.6,547.2 L17.5,545.5 L16.6,543.5 L15.8,541.2 L15.1,538.6 L14.6,536.0 L14.2,533.1 L14.0,530.2 L13.9,527.3 L14.0,524.3 L14.2,521.5 L14.6,518.7 L15.1,516.1 L15.8,513.8 L16.6,511.6 L17.5,509.8 L18.5,508.2 L19.6,507.1 L20.8,506.2 L22.0,505.8 L23.2,505.7 L24.4,506.0 L25.6,506.7 L26.8,507.8 L27.9,509.2 L28.9,510.9 L29.8,512.9 L30.6,515.2 L31.3,517.8 L31.8,520.4 L32.2,523.3 L32.4,526.2 L32.5,529.1" stroke-width="4.2"/>
<path d="M29.2,528.7 L29.2,530.9 L29.0,533.0 L28.8,535.0 L28.5,536.9 L28.1,538.7 L27.7,540.2 L27.2,541.6 L26.6,542.7 L26.0,543.6 L25.3,544.3 L24.7,544.6 L24.0,544.7 L23.3,544.5 L22.7,544.0 L22.0,543.2 L21.4,542.2 L20.8,541.0 L20.3,539.5 L19.9,537.8 L19.5,536.0 L19.2,534.0 L19.0,532.0 L18.8,529.8 L18.8,527.7 L18.8,525.5 L19.0,523.4 L19.2,521.4 L19.5,519.5 L19.9,517.7 L20.3,516.2 L20.8,514.8 L21.4,513.7 L22.0,512.8 L22.7,512.1 L23.3,511.8 L24.0,511.7 L24.7,511.9 L25.3,512.4 L26.0,513.2 L26.6,514.2 L27.2,515.4 L27.7,516.9 L28.1,518.6 L28.5,520.4 L28.8,522.4 L29.0,524.4 L29.2,526.6 L29.2,528.7" stroke-width="1.4"/>
<path d="M38,566 L52,572.5 M50.3,570 V576.5 M52.2,571 V577.3" stroke-width="1.5"/>
<path d="M6,548 L18,557 M9,554 L17,560" stroke-width="1.8"/>
</g>
</g>
<g id="p21">
<rect x="1185.3" y="738.3" width="336.7" height="212.3" stroke-width="2.18" stroke-dasharray="4.2 2.2" stroke-linecap="butt"/>
<g><ellipse cx="1216" cy="868.3" rx="20.4" ry="22.8" fill="#fff" stroke-width="2.30"/>
<path d="M1224.7,847.7 L1242.4,856.2 L1225.0,897.4 L1207.3,888.9 Z" fill="#fff" stroke="none"/>
<path d="M1224.7,847.7 L1242.4,856.2 M1225.0,897.4 L1207.3,888.9" stroke-width="2.30"/>
<ellipse cx="1231.5" cy="876.1999999999999" rx="20.4" ry="22.8" fill="#000" stroke-width="1.54"/>
<ellipse cx="1233.7" cy="876.8" rx="19.799999999999997" ry="22.2" fill="#fff" stroke-width="2.18"/>
<path d="M1253.6,869.8 q3,6 0.5,13" stroke-width="2.05"/>
<path d="M1328,884 V893 M1334.5,885 V893" stroke-width="1.79"/>
<ellipse cx="1305.5" cy="908" rx="20.8" ry="23.3" fill="#fff" stroke-width="2.30"/>
<path d="M1314.0,886.8 L1332.2,895.1 L1315.2,937.5 L1297.0,929.2 Z" fill="#fff" stroke="none"/>
<path d="M1314.0,886.8 L1332.2,895.1 M1315.2,937.5 L1297.0,929.2" stroke-width="2.30"/>
<ellipse cx="1321.5" cy="915.6999999999999" rx="20.8" ry="23.3" fill="#000" stroke-width="1.54"/>
<ellipse cx="1323.7" cy="916.3" rx="20.2" ry="22.7" fill="#fff" stroke-width="2.18"/>
<path d="M1344.0,909.3 q3,6 0.5,13" stroke-width="2.05"/>
<path d="M1220.3,838.5 C1219.5,834 1223,831.5 1228,831 L1250,829.8 L1344,872.5 C1350,875.5 1350.5,881.5 1345.5,884.5 L1321,886.8 L1221.5,844 Z" fill="#fff" stroke-width="2.30"/>
<path d="M1220.3,838.5 C1221,841.5 1222,842 1224,842.8 L1318.5,882.8 L1345.5,880.8 C1347.5,880 1348.8,879 1349.2,877.5" stroke-width="1.92"/>
<path d="M1318.5,882.8 V886.5" stroke-width="1.66"/>
<path d="M1232,842 L1316,878.5 M1254,833.5 L1312,859.5 M1236,838.5 L1252,845" stroke-width="1.66"/>
<path d="M1248,835 C1250,833 1254,832 1257,833 M1310,872 C1311,867 1316,864.5 1322,866" stroke-width="1.66"/>
<path d="M1262,852 L1272,853.5 L1277,857 L1265,855 Z" fill="#000" stroke-width="0.8"/>
<path d="M1280,871.5 V876 L1290,880 V875.5" fill="#000" stroke-width="1.28"/>
<ellipse cx="1237.7" cy="835.3" rx="8.5" ry="3.4" fill="#fff" stroke-width="1.66"/>
<path d="M1231.9,831.8 V834.8 L1235.2,836.8 H1240.7 L1243.5,834.8 V831.8 Z" fill="#fff" stroke-width="1.79"/>
<path d="M1232.7,831.8 C1232.7,823.3 1242.7,823.3 1242.7,831.8 Z" fill="#fff" stroke-width="1.92"/>
<path d="M1235.2,832.3 V836.5999999999999 M1240.7,832.3 V836.5999999999999" stroke-width="1.28"/>
<ellipse cx="1328.4" cy="876.6" rx="8.5" ry="3.4" fill="#fff" stroke-width="1.66"/>
<path d="M1322.6000000000001,873.1 V876.1 L1325.9,878.1 H1331.4 L1334.2,876.1 V873.1 Z" fill="#fff" stroke-width="1.79"/>
<path d="M1323.4,873.1 C1323.4,864.6 1333.4,864.6 1333.4,873.1 Z" fill="#fff" stroke-width="1.92"/>
<path d="M1325.9,873.6 V877.9 M1331.4,873.6 V877.9" stroke-width="1.28"/>
<path d="M1264.8,843.5 V812 C1264.8,793 1271,782 1279,782 C1288,782 1297,797 1300.5,815 C1302,823 1302.5,830 1302.5,838 V858.5" stroke="#000" stroke-width="3.96"/>
<path d="M1264.8,843.5 V812 C1264.8,793 1271,782 1279,782 C1288,782 1297,797 1300.5,815 C1302,823 1302.5,830 1302.5,838 V858.5" stroke="#fff" stroke-width="1.41"/>
<path d="M1263,812 h3.6 M1300.5,829 h3.8" stroke-width="1.28"/>
<path d="M1266.5,838 L1301,854" stroke-width="1.66"/></g>
<g transform="translate(161.5,-35)"><ellipse cx="1216" cy="868.3" rx="20.4" ry="22.8" fill="#fff" stroke-width="2.30"/>
<path d="M1224.7,847.7 L1242.4,856.2 L1225.0,897.4 L1207.3,888.9 Z" fill="#fff" stroke="none"/>
<path d="M1224.7,847.7 L1242.4,856.2 M1225.0,897.4 L1207.3,888.9" stroke-width="2.30"/>
<ellipse cx="1231.5" cy="876.1999999999999" rx="20.4" ry="22.8" fill="#000" stroke-width="1.54"/>
<ellipse cx="1233.7" cy="876.8" rx="19.799999999999997" ry="22.2" fill="#fff" stroke-width="2.18"/>
<path d="M1253.6,869.8 q3,6 0.5,13" stroke-width="2.05"/>
<path d="M1328,884 V893 M1334.5,885 V893" stroke-width="1.79"/>
<ellipse cx="1305.5" cy="908" rx="20.8" ry="23.3" fill="#fff" stroke-width="2.30"/>
<path d="M1314.0,886.8 L1332.2,895.1 L1315.2,937.5 L1297.0,929.2 Z" fill="#fff" stroke="none"/>
<path d="M1314.0,886.8 L1332.2,895.1 M1315.2,937.5 L1297.0,929.2" stroke-width="2.30"/>
<ellipse cx="1321.5" cy="915.6999999999999" rx="20.8" ry="23.3" fill="#000" stroke-width="1.54"/>
<ellipse cx="1323.7" cy="916.3" rx="20.2" ry="22.7" fill="#fff" stroke-width="2.18"/>
<path d="M1344.0,909.3 q3,6 0.5,13" stroke-width="2.05"/>
<path d="M1220.3,838.5 C1219.5,834 1223,831.5 1228,831 L1250,829.8 L1344,872.5 C1350,875.5 1350.5,881.5 1345.5,884.5 L1321,886.8 L1221.5,844 Z" fill="#fff" stroke-width="2.30"/>
<path d="M1220.3,838.5 C1221,841.5 1222,842 1224,842.8 L1318.5,882.8 L1345.5,880.8 C1347.5,880 1348.8,879 1349.2,877.5" stroke-width="1.92"/>
<path d="M1318.5,882.8 V886.5" stroke-width="1.66"/>
<path d="M1232,842 L1316,878.5 M1254,833.5 L1312,859.5 M1236,838.5 L1252,845" stroke-width="1.66"/>
<path d="M1248,835 C1250,833 1254,832 1257,833 M1310,872 C1311,867 1316,864.5 1322,866" stroke-width="1.66"/>
<path d="M1262,852 L1272,853.5 L1277,857 L1265,855 Z" fill="#000" stroke-width="0.8"/>
<path d="M1280,871.5 V876 L1290,880 V875.5" fill="#000" stroke-width="1.28"/>
<ellipse cx="1237.7" cy="835.3" rx="8.5" ry="3.4" fill="#fff" stroke-width="1.66"/>
<path d="M1231.9,831.8 V834.8 L1235.2,836.8 H1240.7 L1243.5,834.8 V831.8 Z" fill="#fff" stroke-width="1.79"/>
<path d="M1232.7,831.8 C1232.7,823.3 1242.7,823.3 1242.7,831.8 Z" fill="#fff" stroke-width="1.92"/>
<path d="M1235.2,832.3 V836.5999999999999 M1240.7,832.3 V836.5999999999999" stroke-width="1.28"/>
<ellipse cx="1328.4" cy="876.6" rx="8.5" ry="3.4" fill="#fff" stroke-width="1.66"/>
<path d="M1322.6000000000001,873.1 V876.1 L1325.9,878.1 H1331.4 L1334.2,876.1 V873.1 Z" fill="#fff" stroke-width="1.79"/>
<path d="M1323.4,873.1 C1323.4,864.6 1333.4,864.6 1333.4,873.1 Z" fill="#fff" stroke-width="1.92"/>
<path d="M1325.9,873.6 V877.9 M1331.4,873.6 V877.9" stroke-width="1.28"/>
<path d="M1264.8,843.5 V812 C1264.8,793 1271,782 1279,782 C1288,782 1297,797 1300.5,815 C1302,823 1302.5,830 1302.5,838 V858.5" stroke="#000" stroke-width="3.96"/>
<path d="M1264.8,843.5 V812 C1264.8,793 1271,782 1279,782 C1288,782 1297,797 1300.5,815 C1302,823 1302.5,830 1302.5,838 V858.5" stroke="#fff" stroke-width="1.41"/>
<path d="M1263,812 h3.6 M1300.5,829 h3.8" stroke-width="1.28"/>
<path d="M1266.5,838 L1301,854" stroke-width="1.66"/></g>
</g>
<g id="p23">
<!-- gasket ring back -->
<g transform="rotate(-4 1013.3 686.3)">
<ellipse cx="1013.3" cy="686.3" rx="15.4" ry="28" fill="#fff" stroke-width="2.30"/>
<ellipse cx="1013.3" cy="686.3" rx="13.4" ry="25.6" stroke-width="1.54"/>
<ellipse cx="1012.3" cy="686.3" rx="10.2" ry="20.6" stroke-width="2.05"/>
<ellipse cx="1013.8" cy="686.3" rx="8.2" ry="18" stroke-width="1.54"/>
</g>
<!-- rod tubes -->
<path d="M938,685.2 L1183,650.8 L1184,676.4 L940,710.6 Z" fill="#fff" stroke="none"/>
<path stroke-width="2.18" d="M938,685.2 L1183,650.8 M940,710.6 L1184,676.4"/>
<path stroke-width="1.66" d="M940,693 L1166,661.3 M941,703 L1178,669.6"/>
<path stroke-width="3.33" d="M941,698 L1158,667.5"/>
<path stroke-width="2.05" d="M1157,656.8 C1164,655 1169,657 1169.5,661.5 C1170,666 1166,669.5 1158,671.5 L1153,673.5"/>
<path stroke-width="1.66" d="M1160,660 C1164,659.5 1166,661 1166,663.5 C1166,666 1163,667.5 1159,668.3"/>
<path stroke-width="2.30" d="M1173,656 V668 M1177,655.5 V667.5 M1181,655 V667"/>
<!-- ring front half -->
<g transform="rotate(-4 1013.3 686.3)">
<path d="M1013.3,658.3 A15.4,28 0 0 1 1013.3,714.3" stroke-width="2.30"/>
<path d="M1013.3,660.7 A13.4,25.6 0 0 1 1013.3,711.9" stroke-width="1.54"/>
<path d="M1013.3,665.7 A10.2,20.6 0 0 1 1013.3,706.9 L1013.3,714.3 A15.4,28 0 0 0 1013.3,658.3 Z" fill="#fff" stroke="none"/>
<path d="M1013.3,658.3 A15.4,28 0 0 1 1013.3,714.3" stroke-width="2.30"/>
<path d="M1013.3,660.7 A13.4,25.6 0 0 1 1013.3,711.9" stroke-width="1.54"/>
<path d="M1012.3,665.7 A10.2,20.6 0 0 1 1012.3,706.9" stroke-width="2.05"/>
</g>
<!-- flange hex -->
<path fill="#fff" stroke-width="2.56" d="M899.5,679.5 L916.5,668.5 L924.5,682 L925,719 L914.5,734.5 L901.5,718 Z"/>
<path stroke-width="1.79" d="M902.5,681 L915.5,672.5 L921.5,683.5 L922,717.5 L913.8,730 L904,716.5 Z"/>
<ellipse cx="912.5" cy="701" rx="8.8" ry="22" stroke-width="2.82"/>
<ellipse cx="913" cy="701" rx="6.6" ry="18" stroke-width="2.56"/>
<ellipse cx="913.5" cy="701" rx="4.4" ry="13.5" stroke-width="2.30"/>
<path fill="#000" stroke-width="1.54" d="M924.5,680 C930,678.5 935,679 938.5,683 C941.5,690 941.5,708 939,715 C936,719.5 930,720.5 925,719 Z"/>
<path stroke="#fff" stroke-width="0.7" d="M928,681 C931,690 931,708 928.5,718 M933,681.5 C936,690 936,708 933.5,717.5"/>
<path fill="#000" stroke-width="1.28" d="M892.5,695.5 L900,694.5 L901,698 L918,696 V700 L901,702 L900.5,705 L893.5,704 Z"/>
<path stroke-width="3.07" d="M905,690 L919,688 M906,711 L920,709.5 M908,684 V690 M911,706 V716"/>
</g>

<g id="p24">
<path fill="#fff" stroke-width="2.56" d="M849.8,617.2 L854.9,616.1 L867.8,622.1 L868.7,666.4 L864.1,671 L850.7,666.4 Z"/>
<path stroke-width="1.92" d="M865.3,622.6 L865.8,668.2"/>
<path fill="#000" stroke-width="1.28" d="M849.8,617.2 L854.9,616.1 L866,621.500 L862,624 L850,623 Z M850.3,631.5 L862,632.500 L862.500,650 L856,651 L850.500,651.500 Z"/>
<path fill="#fff" stroke="none" d="M854,636 L858,638 L859.500,647 L855.500,648 Z"/>
<g fill="#fff" stroke-width="2.30">
<path d="M846.5,624 L860.500,623.500 C862,625.500 862,629 860.500,631 L847,631.500 C845,629.500 845,626 846.500,624 Z"/>
<path d="M846,652 L859.500,651.500 C861,653 861,656.500 859.500,658 L846.500,658.300 C844.800,656.500 844.800,653.500 846,652 Z"/>
<path d="M842.3,659.300 L855,658.800 C856.500,660.500 856.500,664.500 855,666.200 L843,666.600 C841,664.500 841,661 842.300,659.300 Z"/>
<path d="M850,664 L862,663.500 C863.500,665.500 863.500,669 862,671 L850.500,671.300 C848.800,669.500 848.800,666 850,664 Z"/>
</g>
<path fill="#000" stroke="none" d="M845.200,624.500 h3.600 v6.500 h-3.600 Z M844.800,652.300 h3.400 v5.600 h-3.400 Z M841,659.800 h3.400 v6.200 h-3.400 Z M848.800,664.500 h3.200 v6.200 h-3.200 Z"/>
<ellipse cx="869.4" cy="664.5" rx="2.300" ry="3.200" stroke-width="1.92"/>
</g>
<g id="p16">
<path fill="#fff" stroke-width="2.56" d="M927.6,368.8 L942.8,366.4 L959.2,371.7 V403.3 L944,405.1 L927.6,398 Z"/>
<path fill="#000" stroke-width="1.54" d="M927.6,368.8 L942.8,366.4 L959.2,371.7 L944,373.500 Z"/>
<path fill="#fff" stroke="none" d="M936,369 l6,-1 l5,1.600 l-6,1 Z"/>
<path stroke-width="2.56" d="M944,372.9 V405.1 M944,388.500 L960.500,385 M944,393.500 L960.500,390.200"/>
<path fill="#000" stroke-width="1.54" d="M922.5,386 L935.500,385.500 V390.500 L922.500,391 Z M930,380.500 l6,1.500 l2,5 l-2,6.500 l-5.500,1 l-2.500,-6 Z M928,398 L936,401.500 V404.500 L928,401 Z"/>
<path fill="#fff" stroke="none" d="M927,387.500 h7 v1.600 h-7 Z"/>
<path fill="#fff" stroke-width="2.30" d="M934.8,402.5 L939.200,404 V409 L934.800,407.500 Z M941,405 L945.200,406 V413.800 L941,412.800 Z M950.5,404.500 L954.500,404 V411.800 L950.500,412.300 Z"/>
</g>
<g id="p17">
<path fill="#000" stroke-width="1.54" d="M984.4,403.3 L999.1,403.3 L1012,408 L1011.4,410.9 L1000.2,411.5 Z M1000.2,437.9 L1010.8,438.5 L1011.4,440.8 L1000.2,443.2 Z"/>
<path fill="#fff" stroke-width="2.56" d="M984.4,403.9 L1000.2,410.9 V442.6 L984.4,436.1 Z"/>
<ellipse cx="989.1" cy="420.9" rx="1.7" ry="2" fill="#000" stroke="none"/><ellipse cx="993.8" cy="423.8" rx="1.700" ry="2" fill="#000" stroke="none"/>
</g>
<g id="p18">
<path fill="#fff" stroke-width="2.05" d="M1068.8,401.8 L1074.500,401.500 C1075.800,403 1075.800,406 1074.500,407.400 L1068.800,407.500 Z M1068.800,410.400 L1075,410.200 C1076.300,411.500 1076.300,414.500 1075,415.600 L1068.800,415.800 Z"/>
<path fill="#fff" stroke-width="2.30" d="M1062.3,402.2 L1068.8,401.6 V419.1 L1061.2,421.5 Z"/>
<path fill="#000" stroke-width="1.54" d="M1052.4,396.9 L1062.3,396.9 L1068.800,401.600 L1062.300,402.400 L1061.2,421.5 L1052.4,416.8 Z"/>
</g>
<g id="p19">
<path fill="#000" stroke-width="1.28" d="M1106,264.700 L1114,264 L1121,263.600 V283.300 L1114,283.300 L1106,283 V279 L1112.500,278.500 V269 L1106,268.500 Z"/>
<ellipse cx="1124.3" cy="273.300" rx="5" ry="9.200" fill="#fff" stroke-width="3.84"/>
<path fill="#000" stroke="none" d="M1123,266 h6 v14.500 h-6 Z"/>
<path stroke="#fff" stroke-width="1.66" d="M1121.700,267.500 V278.500"/>
</g>
<g id="p9">
<path fill="#fff" stroke-width="2.30" d="M428.6,202.7 L453.3,196.7 L482,210 L481.5,214.200 L456.5,218.300 L428.300,205.300 Z"/>
<path stroke-width="3.52" stroke-linejoin="miter" d="M428.6,204 L456.5,216.500 L481.700,212.200"/>
<path stroke-width="1.54" d="M456.500,214.700 L481,210.400 M432,203 L456.500,214.700" stroke="#fff"/>
<path fill="#000" stroke="none" d="M456.5,218 h5.700 v2.800 h-5.700 Z M437.500,209 l4,1.800 v1.500 l-4,-1.800 Z"/>
</g>
<g id="tray">
<path fill="#000" stroke-width="1.79" d="M434,858.7 L442.500,857.800 L443.2,855.3 L457.8,855.5 L487.4,869.2 L487.7,872.8 L462.8,875.5 L434.1,862.8 Z"/>
<path fill="#fff" stroke="none" d="M444.6,858.200 h2.500 v3.700 h-2.500 Z M449.500,862.300 L458.3,860.900 L463,863.700 L462.6,869.500 Z M464.300,866.900 h2.400 v2.900 h-2.400 Z M468.500,866.500 L475,868.700 L468.800,869.700 Z"/>
</g>

<g id="p25">
<!-- right box -->
<path fill="#fff" stroke-width="2.30" d="M283,745 C287,744 292,748 294,755 C295.500,762 295.600,790 295.300,805 L288.500,808.500 L284,806 Z"/>
<path stroke-width="1.79" d="M285.500,765.500 L295.300,764 M288.500,808.500 V801"/>
<!-- outer -->
<path fill="#fff" stroke-width="2.82" d="M260.2,711.5 C255,711.500 251,714 248,718 C244.500,724 242.500,732 241.400,741 C239.500,752 238,763 237.300,773.800 C236.500,785 236.200,796 236.500,805 C237,815 239.500,822 243,827.900 C247,834.500 252,838.500 257.800,841 C263,843.500 269,845.500 274.200,845.900 C279,846 283,842.500 284.800,837.700 C286.500,833 288,828 288.100,821.300 C288.300,814 287.500,806 286.500,798.400 C285.500,785 284,771 282.400,757.400 C281,748 279,740 276.600,732.800 C274.500,726 272,720.500 269.300,716.400 C267,713.500 264,711.500 260.200,711.500 Z"/>
<path stroke-width="1.66" d="M263,714 C266,716.500 269,722 271.500,729 C274.500,737 277,747 278.800,758 C280.500,771 282,785 283,798.500 C284,807 284.800,815 284.500,822 C284.300,829 283,835 280.500,840 M266.500,713.500 C269.500,716.500 272,722 274,728.500 C277,737 279.500,747 281,758 C282.500,771 284,785 285,798.500"/>
<!-- inner -->
<path stroke-width="3.33" d="M257.800,722.100 C254,722.500 251.500,726.500 249.600,732.800 C246.500,743 245,754 243.900,765.600 C242.500,778 241.500,790 241.400,801.600 C241.500,810 243,816.500 246.300,821.300 C250,827 255,830.500 261.100,832.800 C266,834.800 270,836 274.200,836.100 C277.500,836 279,832.500 279.100,827.900 C279.300,821 278.500,813.500 277.500,806.600 C276.200,793 274.500,779 272.500,765.600 C271.200,755 270,746 268.400,737.700 C267.200,732 265.500,727.500 263.500,724.600 C262,722.800 260,722 257.800,722.100 Z"/>
<!-- hook -->
<path fill="#fff" stroke-width="2.56" d="M243.500,757.500 L250.500,755.800 L252.500,756.500 L258.800,757.300 L263.500,760.500 V772 L243.200,773.500 C241.500,769 241.500,762 243.500,757.500 Z"/>
<path stroke-width="3.84" d="M250.500,795 V769 C250.500,764 251.500,762 255.500,760.500 M260.500,798 V761 L252.500,756.500 M250.500,777.500 L260.500,778.500"/>
</g>
<g id="p26">
<!-- cord -->
<path fill="#fff" stroke-width="2.30" d="M147.500,759 L100.500,740.800 C97.500,739.800 95.500,743.500 97,746.500 C97.500,747.500 98.200,748 99,748.300 L145,767 Z"/>
<!-- strain relief -->
<path fill="#000" stroke-width="1.54" d="M144.500,760.500 C146,757.500 152,757.500 157,760 L168,764 L163,768 L155,767 L159,775 L152.500,778 C147,776 142.500,768 144.500,760.500 Z"/>
<path stroke="#fff" stroke-width="0.900" d="M148,763 C152,762 157,763.500 161,766.500 M147,767 C150,770 153,772.500 156.500,774.500"/>
<!-- head -->
<path fill="#fff" stroke-width="2.56" d="M153,776 L161,773 L168,764.500 L179,764.300 L181.500,768.500 L179.500,776 L190,780.500 L191.800,785 L191.800,800 L182,803.200 L164.500,803.200 L156.500,802.500 L156,780.500 Z"/>
<path stroke-width="2.56" d="M168,764.500 L175,779 L180,778.500 M161,773 L166,781 L175,779 M156,780.500 L164.500,781.500 L190,780.500 M164.500,781.500 V803.200 M182,781 V803.200"/>
<path fill="#000" stroke="none" d="M156.500,781 L164.500,782 V803 L156.800,802.300 Z"/>
<!-- pins -->
<path fill="#fff" stroke-width="2.18" d="M164.600,803.200 L166,818.500 L171,819 L170.500,803.200 Z M181,803.200 L182.500,817.500 L187.500,818.200 L186,803.200 Z"/>
<path stroke-width="2.05" d="M167.800,803.500 L168.600,818.500"/>
</g>

</g>
<g fill="none" stroke="#000" stroke-width="1.8">
<circle cx="48.3" cy="72" r="24.4"/>
<circle cx="102.3" cy="72" r="24.4"/>
<circle cx="155" cy="72" r="24.4"/>
<circle cx="207.4" cy="72" r="24.4"/>
<circle cx="262" cy="72" r="24.4"/>
<circle cx="315.8" cy="72" r="24.4"/>
<circle cx="369.4" cy="72" r="24.4"/>
<circle cx="425.7" cy="72" r="24.4"/>
<circle cx="477.8" cy="72" r="24.4"/>
<circle cx="556" cy="72" r="24.4"/>
<circle cx="652.3" cy="72" r="24.4"/>
<circle cx="716.7" cy="72" r="24.4"/>
<circle cx="769.7" cy="72" r="24.4"/>
<circle cx="823" cy="72" r="24.4"/>
<circle cx="884" cy="72" r="24.4"/>
<circle cx="942.2" cy="72" r="24.4"/>
<circle cx="999.3" cy="72" r="24.4"/>
<circle cx="1060.5" cy="72" r="24.4"/>
<circle cx="1120.2" cy="72" r="24.4"/>
<circle cx="1203.2" cy="72" r="24.4"/>
<circle cx="1127.5" cy="926.4" r="24.4"/>
<circle cx="1026.3" cy="868" r="24.4"/>
<circle cx="937.3" cy="868" r="24.4"/>
<circle cx="859.6" cy="868" r="24.4"/>
<circle cx="261.5" cy="934.5" r="24.4"/>
<circle cx="168" cy="934.5" r="24.4"/>
</g><g fill="none" stroke="#000" stroke-width="1.55" stroke-linejoin="miter">
<path transform="translate(43.4,61.5)" d="M1,5.5 L6.3,0 L6.3,24.5 M0.5,24.5 L12,24.5"/>
<path transform="translate(93.8,61.5)" d="M0,4.5 L4,0 L13,0 L17,4 L17,8.5 L13,12.5 L4,12.5 L0,16.5 L0,24.5 L17,24.5"/>
<path transform="translate(146.5,61.5)" d="M0,4 L4,0 L13,0 L17,4 L17,8.5 L13,12.3 L5.5,12.3 M13,12.3 L17,16.3 L17,20.5 L13,24.5 L4,24.5 L0,20.5"/>
<path transform="translate(198.9,61.5)" d="M13.5,24.5 L13.5,0 L0,16.5 L17,16.5"/>
<path transform="translate(253.5,61.5)" d="M16.5,0 L0.5,0 L0.5,10.5 L13,10.5 L17,14.5 L17,20.5 L13,24.5 L4,24.5 L0,20.5"/>
<path transform="translate(307.3,61.5)" d="M14,0 L11,0 L0,12.5 L0,20.5 L4,24.5 L13,24.5 L17,20.5 L17,16.5 L13,12.7 L0.3,12.7"/>
<path transform="translate(360.9,61.5)" d="M0,0 L17,0 L5,24.5"/>
<path transform="translate(417.2,61.5)" d="M4,0 L13,0 L17,4 L17,8.5 L13,12.3 L17,16.3 L17,20.5 L13,24.5 L4,24.5 L0,20.5 L0,16.3 L4,12.3 L0,8.5 L0,4 Z M4,12.3 L13,12.3"/>
<path transform="translate(469.3,61.5)" d="M4,24.5 L8.5,24.5 L17,16 L17,4 L13,0 L4,0 L0,4 L0,8.5 L4,12.5 L17,12.5"/>
<path transform="translate(538.7,60.2)" d="M1,5.5 L6.3,0 L6.3,24.5 M0.5,24.5 L12,24.5"/>
<path transform="translate(557.5,60.2)" d="M3.5,0 L9.5,0 L13,4 L13,20.5 L9.5,24.5 L3.5,24.5 L0,20.5 L0,4 Z"/>
<path transform="translate(638.5,60.2)" d="M1,5.5 L6.3,0 L6.3,24.5 M0.5,24.5 L12,24.5"/>
<path transform="translate(652.8,60.2)" d="M1,5.5 L6.3,0 L6.3,24.5 M0.5,24.5 L12,24.5"/>
<path transform="translate(699.4,60.2)" d="M1,5.5 L6.3,0 L6.3,24.5 M0.5,24.5 L12,24.5"/>
<path transform="translate(717.5,60.2)" d="M0,4.5 L4,0 L13,0 L17,4 L17,8.5 L13,12.5 L4,12.5 L0,16.5 L0,24.5 L17,24.5"/>
<path transform="translate(752.4,60.2)" d="M1,5.5 L6.3,0 L6.3,24.5 M0.5,24.5 L12,24.5"/>
<path transform="translate(770.5,60.2)" d="M0,4 L4,0 L13,0 L17,4 L17,8.5 L13,12.3 L5.5,12.3 M13,12.3 L17,16.3 L17,20.5 L13,24.5 L4,24.5 L0,20.5"/>
<path transform="translate(805.7,60.2)" d="M1,5.5 L6.3,0 L6.3,24.5 M0.5,24.5 L12,24.5"/>
<path transform="translate(823.8,60.2)" d="M13.5,24.5 L13.5,0 L0,16.5 L17,16.5"/>
<path transform="translate(866.7,60.2)" d="M1,5.5 L6.3,0 L6.3,24.5 M0.5,24.5 L12,24.5"/>
<path transform="translate(884.8,60.2)" d="M16.5,0 L0.5,0 L0.5,10.5 L13,10.5 L17,14.5 L17,20.5 L13,24.5 L4,24.5 L0,20.5"/>
<path transform="translate(924.9,60.2)" d="M1,5.5 L6.3,0 L6.3,24.5 M0.5,24.5 L12,24.5"/>
<path transform="translate(943.0,60.2)" d="M14,0 L11,0 L0,12.5 L0,20.5 L4,24.5 L13,24.5 L17,20.5 L17,16.5 L13,12.7 L0.3,12.7"/>
<path transform="translate(982.0,60.2)" d="M1,5.5 L6.3,0 L6.3,24.5 M0.5,24.5 L12,24.5"/>
<path transform="translate(1000.1,60.2)" d="M0,0 L17,0 L5,24.5"/>
<path transform="translate(1043.2,60.2)" d="M1,5.5 L6.3,0 L6.3,24.5 M0.5,24.5 L12,24.5"/>
<path transform="translate(1061.3,60.2)" d="M4,0 L13,0 L17,4 L17,8.5 L13,12.3 L17,16.3 L17,20.5 L13,24.5 L4,24.5 L0,20.5 L0,16.3 L4,12.3 L0,8.5 L0,4 Z M4,12.3 L13,12.3"/>
<path transform="translate(1102.9,60.2)" d="M1,5.5 L6.3,0 L6.3,24.5 M0.5,24.5 L12,24.5"/>
<path transform="translate(1121.0,60.2)" d="M4,24.5 L8.5,24.5 L17,16 L17,4 L13,0 L4,0 L0,4 L0,8.5 L4,12.5 L17,12.5"/>
<path transform="translate(1183.7,60.2)" d="M0,4.5 L4,0 L13,0 L17,4 L17,8.5 L13,12.5 L4,12.5 L0,16.5 L0,24.5 L17,24.5"/>
<path transform="translate(1208.7,60.2)" d="M3.5,0 L9.5,0 L13,4 L13,20.5 L9.5,24.5 L3.5,24.5 L0,20.5 L0,4 Z"/>
<path transform="translate(1111.8,914.6)" d="M0,4.5 L4,0 L13,0 L17,4 L17,8.5 L13,12.5 L4,12.5 L0,16.5 L0,24.5 L17,24.5"/>
<path transform="translate(1133.7,914.6)" d="M1,5.5 L6.3,0 L6.3,24.5 M0.5,24.5 L12,24.5"/>
<path transform="translate(1008.0,856.2)" d="M0,4.5 L4,0 L13,0 L17,4 L17,8.5 L13,12.5 L4,12.5 L0,16.5 L0,24.5 L17,24.5"/>
<path transform="translate(1030.6,856.2)" d="M0,4.5 L4,0 L13,0 L17,4 L17,8.5 L13,12.5 L4,12.5 L0,16.5 L0,24.5 L17,24.5"/>
<path transform="translate(919.0,856.2)" d="M0,4.5 L4,0 L13,0 L17,4 L17,8.5 L13,12.5 L4,12.5 L0,16.5 L0,24.5 L17,24.5"/>
<path transform="translate(941.6,856.2)" d="M0,4 L4,0 L13,0 L17,4 L17,8.5 L13,12.3 L5.5,12.3 M13,12.3 L17,16.3 L17,20.5 L13,24.5 L4,24.5 L0,20.5"/>
<path transform="translate(841.3,856.2)" d="M0,4.5 L4,0 L13,0 L17,4 L17,8.5 L13,12.5 L4,12.5 L0,16.5 L0,24.5 L17,24.5"/>
<path transform="translate(863.9,856.2)" d="M13.5,24.5 L13.5,0 L0,16.5 L17,16.5"/>
<path transform="translate(242.0,922.7)" d="M0,4.5 L4,0 L13,0 L17,4 L17,8.5 L13,12.5 L4,12.5 L0,16.5 L0,24.5 L17,24.5"/>
<path transform="translate(265.8,922.7)" d="M16.5,0 L0.5,0 L0.5,10.5 L13,10.5 L17,14.5 L17,20.5 L13,24.5 L4,24.5 L0,20.5"/>
<path transform="translate(148.5,922.7)" d="M0,4.5 L4,0 L13,0 L17,4 L17,8.5 L13,12.5 L4,12.5 L0,16.5 L0,24.5 L17,24.5"/>
<path transform="translate(172.3,922.7)" d="M14,0 L11,0 L0,12.5 L0,20.5 L4,24.5 L13,24.5 L17,20.5 L17,16.5 L13,12.7 L0.3,12.7"/>
</g>
<path fill="none" stroke="#000" stroke-width="1.7" d="M48.3,96.5 V598.3 H190 M102.3,96.5 V548 H140 M155,96.5 V345 M207.4,96.5 V367 M262,96.5 V278 M315.8,96.5 V436 M369.4,96.5 V358 M425.7,96.5 V256 M477.8,96.5 V207 M556,96.5 V493 M652.3,96.5 V507 M716.7,96.5 V512 M769.7,96.5 V473.3 H799 M823,96.5 V392 M884,96.5 V443 M942.2,96.5 V367 M999.3,96.5 V404 M1060.5,96.5 V397 M1120.2,96.5 V263 M1203.2,96.5 V130 M1152,926.4 H1185 M1026.3,843.5 V712 M937.3,843.5 V715 M859.6,843.5 V672 M261.5,910 V845 M168,910 V820"/>
<defs>
<mask id="mArc" maskUnits="userSpaceOnUse" x="1000" y="300" width="400" height="400">
<rect x="1000" y="300" width="400" height="400" fill="#fff"/>
<path fill="#000" stroke="#000" stroke-width="2.8" d="M1136.5,450.7 C1140,425 1155,398 1176.5,381 L1242.6,380.7 L1231.5,395 L1201,396.2 C1184,408 1170,430 1165.7,450.7 Z"/>
<path fill="#000" stroke="#000" stroke-width="2.8" d="M1162.6,473.8 C1166,445 1180,418 1201,400.5 L1271.8,400 C1255,420 1243,445 1236.4,473.8 Z"/>
</mask>
<mask id="mArcOut" maskUnits="userSpaceOnUse" x="1000" y="300" width="400" height="400">
<rect x="1000" y="300" width="400" height="400" fill="#fff"/>
<path fill="#000" d="M1109.6,427.6 C1112,398 1128,368 1156.5,353.5 L1226,352.3 L1200,377 L1180,378.5 C1160,390 1142,410 1138,427.6 Z"/>
</mask>
</defs>
<g id="wmA" opacity="0.26" fill="#000">
<path d="M257,435 H313 V500 H374 V435 H430 V620.5 H374 V545.5 H313 V620.5 H257 Z"/>
<rect x="480.3" y="380.7" width="42.2" height="27.5"/><rect x="584" y="380.7" width="42.2" height="27.5"/>
<path d="M467.3,435 H522.5 V545 Q522.5,581 553.5,581 Q584,581 584,545 V435 H640 V548 Q640,623.5 553.5,623.5 Q467.3,623.5 467.3,548 Z"/>
<path d="M664,435 H833.2 V480 H776.2 V620.5 H720.7 V480 H664 Z"/>
<path d="M858.2,435 H1007.7 V474.7 H913.4 V504.7 H1000.7 V542 H913.4 V579.7 H1010.3 V620.5 H858.2 Z"/>
<path mask="url(#mArc)" fill-rule="evenodd" d="M1041,435 H1135 Q1192,435 1192,490 Q1192,530 1150,540 L1216,620.5 H1152 L1100,548 H1097 V620.5 H1041 Z M1097,473 V509 H1128 Q1150,509 1150,491 Q1150,473 1128,473 Z"/>
<path mask="url(#mArc)" d="M1109.6,427.6 C1112,398 1128,368 1156.5,353.5 L1226,352.3 L1200,377 L1180,378.5 C1160,390 1142,410 1138,427.6 Z"/>
</g>
<g id="wmB" opacity="0.36" stroke="#fff" stroke-width="2.8" stroke-linejoin="miter">
<path mask="url(#mArcOut)" fill="none" d="M1109.6,427.6 C1112,398 1128,368 1156.5,353.5 L1226,352.3 L1200,377 L1180,378.5 C1160,390 1142,410 1138,427.6 Z"/>
<path fill="#e6252f" d="M1136.5,450.7 C1140,425 1155,398 1176.5,381 L1242.6,380.7 L1231.5,395 L1201,396.2 C1184,408 1170,430 1165.7,450.7 Z"/>
<path fill="#ffff00" d="M1162.6,473.8 C1166,445 1180,418 1201,400.5 L1271.8,400 C1255,420 1243,445 1236.4,473.8 Z"/>
</g>

</svg>
</body></html>
